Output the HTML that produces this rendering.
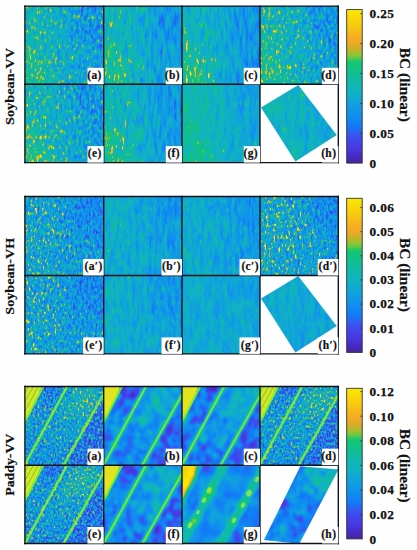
<!DOCTYPE html>
<html><head><meta charset="utf-8"><style>
html,body{margin:0;padding:0;background:#fff;width:417px;height:550px;overflow:hidden}
svg{display:block}
.lb{font:bold 11.5px "Liberation Serif",serif;fill:#111;letter-spacing:0.4px;stroke:#111;stroke-width:0.2px}
.tk{font:bold 13.3px "Liberation Serif",serif;fill:#111;letter-spacing:0.4px;stroke:#111;stroke-width:0.25px}
.ax{font:bold 13px "Liberation Serif",serif;fill:#111;stroke:#111;stroke-width:0.2px}
.ax2{font:bold 15px "Liberation Serif",serif;fill:#111;stroke:#111;stroke-width:0.2px}
</style></head><body>
<svg width="417" height="550" viewBox="0 0 417 550">
<defs><linearGradient id="cb" x1="0" y1="1" x2="0" y2="0"><stop offset="0.000" stop-color="#4623a0"/><stop offset="0.017" stop-color="#4725ad"/><stop offset="0.033" stop-color="#4728bb"/><stop offset="0.050" stop-color="#482ac8"/><stop offset="0.067" stop-color="#4830d2"/><stop offset="0.083" stop-color="#4836dd"/><stop offset="0.100" stop-color="#473ae3"/><stop offset="0.117" stop-color="#453ee7"/><stop offset="0.133" stop-color="#4342ea"/><stop offset="0.150" stop-color="#4146ee"/><stop offset="0.167" stop-color="#3d4cf0"/><stop offset="0.183" stop-color="#3756f0"/><stop offset="0.200" stop-color="#3060f0"/><stop offset="0.217" stop-color="#236bf4"/><stop offset="0.233" stop-color="#1577f8"/><stop offset="0.250" stop-color="#137df6"/><stop offset="0.267" stop-color="#1282f5"/><stop offset="0.283" stop-color="#1187f3"/><stop offset="0.300" stop-color="#118df1"/><stop offset="0.317" stop-color="#1092ee"/><stop offset="0.333" stop-color="#1095eb"/><stop offset="0.350" stop-color="#1099e7"/><stop offset="0.367" stop-color="#109de3"/><stop offset="0.383" stop-color="#10a1df"/><stop offset="0.400" stop-color="#10a5d9"/><stop offset="0.417" stop-color="#10a8d3"/><stop offset="0.433" stop-color="#10acce"/><stop offset="0.450" stop-color="#10b0c8"/><stop offset="0.467" stop-color="#10b2c2"/><stop offset="0.483" stop-color="#10b4bd"/><stop offset="0.500" stop-color="#10b6b7"/><stop offset="0.517" stop-color="#10b8b1"/><stop offset="0.533" stop-color="#10baaa"/><stop offset="0.550" stop-color="#10bba2"/><stop offset="0.567" stop-color="#10bd9b"/><stop offset="0.583" stop-color="#10bf93"/><stop offset="0.600" stop-color="#10c18b"/><stop offset="0.617" stop-color="#10c384"/><stop offset="0.633" stop-color="#10c57c"/><stop offset="0.650" stop-color="#10c775"/><stop offset="0.667" stop-color="#25c865"/><stop offset="0.683" stop-color="#5bc84b"/><stop offset="0.700" stop-color="#83c53a"/><stop offset="0.717" stop-color="#a2bf30"/><stop offset="0.733" stop-color="#b8b62b"/><stop offset="0.750" stop-color="#ceaf28"/><stop offset="0.767" stop-color="#e1ab28"/><stop offset="0.783" stop-color="#f1a927"/><stop offset="0.800" stop-color="#f3ab25"/><stop offset="0.817" stop-color="#f6ae22"/><stop offset="0.833" stop-color="#f8b11f"/><stop offset="0.850" stop-color="#f8b81b"/><stop offset="0.867" stop-color="#f8bf16"/><stop offset="0.883" stop-color="#f8c512"/><stop offset="0.900" stop-color="#f8cb0e"/><stop offset="0.917" stop-color="#f9cf0b"/><stop offset="0.933" stop-color="#f9d408"/><stop offset="0.950" stop-color="#fad805"/><stop offset="0.967" stop-color="#fade05"/><stop offset="0.983" stop-color="#fae505"/><stop offset="1.000" stop-color="#faeb05"/></linearGradient>
<filter id="chroma" filterUnits="userSpaceOnUse" x="0" y="0" width="417" height="550" color-interpolation-filters="sRGB"><feColorMatrix in="SourceGraphic" type="matrix" values="0.299 0.587 0.114 0 0  -0.1687 -0.3313 0.5 0 0.5  0.5 -0.4187 -0.0813 0 0.5  0 0 0 1 0" result="ycc"/><feGaussianBlur in="ycc" stdDeviation="0.9" result="yccb"/><feColorMatrix in="ycc" type="matrix" values="1 0 0 0 0  0 0 0 0 0  0 0 0 0 0  0 0 0 0 1" result="yo"/><feColorMatrix in="yccb" type="matrix" values="0 0 0 0 0  0 1 0 0 0  0 0 1 0 0  0 0 0 0 1" result="co"/><feComposite in="yo" in2="co" operator="arithmetic" k1="0" k2="1" k3="1" k4="0" result="m"/><feColorMatrix in="m" type="matrix" values="1 0 1.402 0 -0.701  1 -0.344136 -0.714136 0 0.529136  1 1.772 0 0 -0.886  0 0 0 1 0"/></filter>
<filter id="sb" x="-20%" y="-20%" width="140%" height="140%"><feGaussianBlur stdDeviation="0.6"/></filter>
<filter id="sb2" x="-20%" y="-20%" width="140%" height="140%"><feGaussianBlur stdDeviation="1.2"/></filter>
<filter id="f0" filterUnits="userSpaceOnUse" x="24.9" y="6.1" width="78.8" height="78.2" color-interpolation-filters="sRGB"><feTurbulence type="fractalNoise" baseFrequency="0.38 0.2" numOctaves="2" seed="1" result="n1"/><feColorMatrix in="n1" type="matrix" values="1 0 0 0 0 1 0 0 0 0 1 0 0 0 0 0 0 0 0 1"/><feComponentTransfer result="g1"><feFuncR type="gamma" exponent="3"/><feFuncG type="gamma" exponent="3"/><feFuncB type="gamma" exponent="3"/></feComponentTransfer><feComposite in="SourceGraphic" in2="g1" operator="arithmetic" k1="0" k2="1" k3="1.100" k4="-0.161" result="t1"/><feTurbulence type="fractalNoise" baseFrequency="0.3 0.08" numOctaves="2" seed="51" result="n2"/><feColorMatrix in="n2" type="matrix" values="0 1 0 0 0 0 1 0 0 0 0 1 0 0 0 0 0 0 0 1" result="g2"/><feComposite in="t1" in2="g2" operator="arithmetic" k1="0" k2="1" k3="0.220" k4="-0.110" result="t2"/><feGaussianBlur in="t2" stdDeviation="0.5" edgeMode="duplicate" result="t3"/><feComponentTransfer in="t3"><feFuncR type="table" tableValues="0.275 0.277 0.280 0.282 0.282 0.282 0.278 0.270 0.263 0.255 0.241 0.214 0.188 0.136 0.084 0.075 0.072 0.068 0.065 0.063 0.063 0.063 0.063 0.063 0.063 0.063 0.063 0.063 0.063 0.063 0.063 0.063 0.063 0.063 0.063 0.063 0.063 0.063 0.063 0.063 0.146 0.356 0.515 0.636 0.723 0.807 0.881 0.943 0.954 0.964 0.973 0.973 0.973 0.973 0.974 0.976 0.978 0.980 0.980 0.980 0.980"/><feFuncG type="table" tableValues="0.137 0.146 0.156 0.165 0.188 0.210 0.229 0.244 0.258 0.273 0.298 0.337 0.376 0.421 0.466 0.489 0.510 0.531 0.552 0.571 0.586 0.601 0.615 0.630 0.645 0.660 0.675 0.690 0.698 0.705 0.713 0.720 0.728 0.735 0.742 0.750 0.757 0.765 0.772 0.780 0.784 0.784 0.772 0.749 0.715 0.686 0.671 0.661 0.671 0.682 0.695 0.722 0.748 0.774 0.795 0.812 0.830 0.847 0.872 0.897 0.922"/><feFuncB type="table" tableValues="0.627 0.680 0.732 0.784 0.825 0.866 0.891 0.905 0.919 0.933 0.941 0.941 0.941 0.956 0.971 0.966 0.959 0.952 0.945 0.935 0.920 0.905 0.890 0.874 0.852 0.829 0.807 0.784 0.762 0.739 0.717 0.695 0.666 0.636 0.607 0.577 0.547 0.517 0.487 0.457 0.397 0.293 0.226 0.186 0.169 0.157 0.157 0.155 0.144 0.134 0.122 0.105 0.087 0.070 0.056 0.044 0.032 0.020 0.020 0.020 0.020"/><feFuncA type="linear" slope="0" intercept="1"/></feComponentTransfer></filter>
<filter id="b0" filterUnits="userSpaceOnUse" x="4.9" y="-13.9" width="118.8" height="118.2" color-interpolation-filters="sRGB"><feGaussianBlur stdDeviation="5"/></filter>
<clipPath id="c0"><rect x="24.9" y="6.1" width="78.8" height="78.2"/></clipPath>
<filter id="f1" filterUnits="userSpaceOnUse" x="103.7" y="6.1" width="78.3" height="78.2" color-interpolation-filters="sRGB"><feTurbulence type="fractalNoise" baseFrequency="0.36 0.14" numOctaves="2" seed="2" result="n1"/><feColorMatrix in="n1" type="matrix" values="1 0 0 0 0 1 0 0 0 0 1 0 0 0 0 0 0 0 0 1"/><feComponentTransfer result="g1"><feFuncR type="gamma" amplitude="2.500" exponent="1" offset="-1.5000"/><feFuncG type="gamma" amplitude="2.500" exponent="1" offset="-1.5000"/><feFuncB type="gamma" amplitude="2.500" exponent="1" offset="-1.5000"/></feComponentTransfer><feComponentTransfer in="SourceGraphic" result="mk"><feFuncR type="linear" slope="5.556" intercept="-2.000"/><feFuncG type="linear" slope="5.556" intercept="-2.000"/><feFuncB type="linear" slope="5.556" intercept="-2.000"/></feComponentTransfer><feComposite in="mk" in2="g1" operator="arithmetic" k1="1" k2="0" k3="0" k4="0" result="g1m"/><feComposite in="SourceGraphic" in2="g1m" operator="arithmetic" k1="0" k2="1" k3="1" k4="-0.0000" result="t1"/><feTurbulence type="fractalNoise" baseFrequency="0.35 0.07" numOctaves="2" seed="52" result="n2"/><feColorMatrix in="n2" type="matrix" values="0 1 0 0 0 0 1 0 0 0 0 1 0 0 0 0 0 0 0 1" result="g2"/><feComposite in="t1" in2="g2" operator="arithmetic" k1="0" k2="1" k3="0.500" k4="-0.250" result="t2"/><feGaussianBlur in="t2" stdDeviation="0.4" edgeMode="duplicate" result="t3"/><feComponentTransfer in="t3"><feFuncR type="table" tableValues="0.275 0.277 0.280 0.282 0.282 0.282 0.278 0.270 0.263 0.255 0.241 0.214 0.188 0.136 0.084 0.075 0.072 0.068 0.065 0.063 0.063 0.063 0.063 0.063 0.063 0.063 0.063 0.063 0.063 0.063 0.063 0.063 0.063 0.063 0.063 0.063 0.063 0.063 0.063 0.063 0.146 0.356 0.515 0.636 0.723 0.807 0.881 0.943 0.954 0.964 0.973 0.973 0.973 0.973 0.974 0.976 0.978 0.980 0.980 0.980 0.980"/><feFuncG type="table" tableValues="0.137 0.146 0.156 0.165 0.188 0.210 0.229 0.244 0.258 0.273 0.298 0.337 0.376 0.421 0.466 0.489 0.510 0.531 0.552 0.571 0.586 0.601 0.615 0.630 0.645 0.660 0.675 0.690 0.698 0.705 0.713 0.720 0.728 0.735 0.742 0.750 0.757 0.765 0.772 0.780 0.784 0.784 0.772 0.749 0.715 0.686 0.671 0.661 0.671 0.682 0.695 0.722 0.748 0.774 0.795 0.812 0.830 0.847 0.872 0.897 0.922"/><feFuncB type="table" tableValues="0.627 0.680 0.732 0.784 0.825 0.866 0.891 0.905 0.919 0.933 0.941 0.941 0.941 0.956 0.971 0.966 0.959 0.952 0.945 0.935 0.920 0.905 0.890 0.874 0.852 0.829 0.807 0.784 0.762 0.739 0.717 0.695 0.666 0.636 0.607 0.577 0.547 0.517 0.487 0.457 0.397 0.293 0.226 0.186 0.169 0.157 0.157 0.155 0.144 0.134 0.122 0.105 0.087 0.070 0.056 0.044 0.032 0.020 0.020 0.020 0.020"/><feFuncA type="linear" slope="0" intercept="1"/></feComponentTransfer></filter>
<filter id="b1" filterUnits="userSpaceOnUse" x="83.7" y="-13.9" width="118.3" height="118.2" color-interpolation-filters="sRGB"><feGaussianBlur stdDeviation="5"/></filter>
<clipPath id="c1"><rect x="103.7" y="6.1" width="78.3" height="78.2"/></clipPath>
<filter id="f2" filterUnits="userSpaceOnUse" x="182.0" y="6.1" width="78.0" height="78.2" color-interpolation-filters="sRGB"><feTurbulence type="fractalNoise" baseFrequency="0.36 0.14" numOctaves="2" seed="3" result="n1"/><feColorMatrix in="n1" type="matrix" values="1 0 0 0 0 1 0 0 0 0 1 0 0 0 0 0 0 0 0 1"/><feComponentTransfer result="g1"><feFuncR type="gamma" amplitude="2.500" exponent="1" offset="-1.5000"/><feFuncG type="gamma" amplitude="2.500" exponent="1" offset="-1.5000"/><feFuncB type="gamma" amplitude="2.500" exponent="1" offset="-1.5000"/></feComponentTransfer><feComponentTransfer in="SourceGraphic" result="mk"><feFuncR type="linear" slope="5.556" intercept="-2.000"/><feFuncG type="linear" slope="5.556" intercept="-2.000"/><feFuncB type="linear" slope="5.556" intercept="-2.000"/></feComponentTransfer><feComposite in="mk" in2="g1" operator="arithmetic" k1="1" k2="0" k3="0" k4="0" result="g1m"/><feComposite in="SourceGraphic" in2="g1m" operator="arithmetic" k1="0" k2="1" k3="1" k4="-0.0000" result="t1"/><feTurbulence type="fractalNoise" baseFrequency="0.35 0.07" numOctaves="2" seed="53" result="n2"/><feColorMatrix in="n2" type="matrix" values="0 1 0 0 0 0 1 0 0 0 0 1 0 0 0 0 0 0 0 1" result="g2"/><feComposite in="t1" in2="g2" operator="arithmetic" k1="0" k2="1" k3="0.500" k4="-0.250" result="t2"/><feGaussianBlur in="t2" stdDeviation="0.4" edgeMode="duplicate" result="t3"/><feComponentTransfer in="t3"><feFuncR type="table" tableValues="0.275 0.277 0.280 0.282 0.282 0.282 0.278 0.270 0.263 0.255 0.241 0.214 0.188 0.136 0.084 0.075 0.072 0.068 0.065 0.063 0.063 0.063 0.063 0.063 0.063 0.063 0.063 0.063 0.063 0.063 0.063 0.063 0.063 0.063 0.063 0.063 0.063 0.063 0.063 0.063 0.146 0.356 0.515 0.636 0.723 0.807 0.881 0.943 0.954 0.964 0.973 0.973 0.973 0.973 0.974 0.976 0.978 0.980 0.980 0.980 0.980"/><feFuncG type="table" tableValues="0.137 0.146 0.156 0.165 0.188 0.210 0.229 0.244 0.258 0.273 0.298 0.337 0.376 0.421 0.466 0.489 0.510 0.531 0.552 0.571 0.586 0.601 0.615 0.630 0.645 0.660 0.675 0.690 0.698 0.705 0.713 0.720 0.728 0.735 0.742 0.750 0.757 0.765 0.772 0.780 0.784 0.784 0.772 0.749 0.715 0.686 0.671 0.661 0.671 0.682 0.695 0.722 0.748 0.774 0.795 0.812 0.830 0.847 0.872 0.897 0.922"/><feFuncB type="table" tableValues="0.627 0.680 0.732 0.784 0.825 0.866 0.891 0.905 0.919 0.933 0.941 0.941 0.941 0.956 0.971 0.966 0.959 0.952 0.945 0.935 0.920 0.905 0.890 0.874 0.852 0.829 0.807 0.784 0.762 0.739 0.717 0.695 0.666 0.636 0.607 0.577 0.547 0.517 0.487 0.457 0.397 0.293 0.226 0.186 0.169 0.157 0.157 0.155 0.144 0.134 0.122 0.105 0.087 0.070 0.056 0.044 0.032 0.020 0.020 0.020 0.020"/><feFuncA type="linear" slope="0" intercept="1"/></feComponentTransfer></filter>
<filter id="b2" filterUnits="userSpaceOnUse" x="162.0" y="-13.9" width="118.0" height="118.2" color-interpolation-filters="sRGB"><feGaussianBlur stdDeviation="5"/></filter>
<clipPath id="c2"><rect x="182.0" y="6.1" width="78.0" height="78.2"/></clipPath>
<filter id="f3" filterUnits="userSpaceOnUse" x="260.0" y="6.1" width="78.3" height="78.2" color-interpolation-filters="sRGB"><feTurbulence type="fractalNoise" baseFrequency="0.38 0.2" numOctaves="2" seed="4" result="n1"/><feColorMatrix in="n1" type="matrix" values="1 0 0 0 0 1 0 0 0 0 1 0 0 0 0 0 0 0 0 1"/><feComponentTransfer result="g1"><feFuncR type="gamma" exponent="3"/><feFuncG type="gamma" exponent="3"/><feFuncB type="gamma" exponent="3"/></feComponentTransfer><feComposite in="SourceGraphic" in2="g1" operator="arithmetic" k1="0" k2="1" k3="1.100" k4="-0.161" result="t1"/><feTurbulence type="fractalNoise" baseFrequency="0.3 0.08" numOctaves="2" seed="54" result="n2"/><feColorMatrix in="n2" type="matrix" values="0 1 0 0 0 0 1 0 0 0 0 1 0 0 0 0 0 0 0 1" result="g2"/><feComposite in="t1" in2="g2" operator="arithmetic" k1="0" k2="1" k3="0.220" k4="-0.110" result="t2"/><feGaussianBlur in="t2" stdDeviation="0.5" edgeMode="duplicate" result="t3"/><feComponentTransfer in="t3"><feFuncR type="table" tableValues="0.275 0.277 0.280 0.282 0.282 0.282 0.278 0.270 0.263 0.255 0.241 0.214 0.188 0.136 0.084 0.075 0.072 0.068 0.065 0.063 0.063 0.063 0.063 0.063 0.063 0.063 0.063 0.063 0.063 0.063 0.063 0.063 0.063 0.063 0.063 0.063 0.063 0.063 0.063 0.063 0.146 0.356 0.515 0.636 0.723 0.807 0.881 0.943 0.954 0.964 0.973 0.973 0.973 0.973 0.974 0.976 0.978 0.980 0.980 0.980 0.980"/><feFuncG type="table" tableValues="0.137 0.146 0.156 0.165 0.188 0.210 0.229 0.244 0.258 0.273 0.298 0.337 0.376 0.421 0.466 0.489 0.510 0.531 0.552 0.571 0.586 0.601 0.615 0.630 0.645 0.660 0.675 0.690 0.698 0.705 0.713 0.720 0.728 0.735 0.742 0.750 0.757 0.765 0.772 0.780 0.784 0.784 0.772 0.749 0.715 0.686 0.671 0.661 0.671 0.682 0.695 0.722 0.748 0.774 0.795 0.812 0.830 0.847 0.872 0.897 0.922"/><feFuncB type="table" tableValues="0.627 0.680 0.732 0.784 0.825 0.866 0.891 0.905 0.919 0.933 0.941 0.941 0.941 0.956 0.971 0.966 0.959 0.952 0.945 0.935 0.920 0.905 0.890 0.874 0.852 0.829 0.807 0.784 0.762 0.739 0.717 0.695 0.666 0.636 0.607 0.577 0.547 0.517 0.487 0.457 0.397 0.293 0.226 0.186 0.169 0.157 0.157 0.155 0.144 0.134 0.122 0.105 0.087 0.070 0.056 0.044 0.032 0.020 0.020 0.020 0.020"/><feFuncA type="linear" slope="0" intercept="1"/></feComponentTransfer></filter>
<filter id="b3" filterUnits="userSpaceOnUse" x="240.0" y="-13.9" width="118.3" height="118.2" color-interpolation-filters="sRGB"><feGaussianBlur stdDeviation="5"/></filter>
<clipPath id="c3"><rect x="260.0" y="6.1" width="78.3" height="78.2"/></clipPath>
<filter id="f4" filterUnits="userSpaceOnUse" x="24.9" y="84.2" width="78.8" height="78.3" color-interpolation-filters="sRGB"><feTurbulence type="fractalNoise" baseFrequency="0.38 0.2" numOctaves="2" seed="5" result="n1"/><feColorMatrix in="n1" type="matrix" values="1 0 0 0 0 1 0 0 0 0 1 0 0 0 0 0 0 0 0 1"/><feComponentTransfer result="g1"><feFuncR type="gamma" exponent="3"/><feFuncG type="gamma" exponent="3"/><feFuncB type="gamma" exponent="3"/></feComponentTransfer><feComposite in="SourceGraphic" in2="g1" operator="arithmetic" k1="0" k2="1" k3="1.100" k4="-0.161" result="t1"/><feTurbulence type="fractalNoise" baseFrequency="0.3 0.08" numOctaves="2" seed="55" result="n2"/><feColorMatrix in="n2" type="matrix" values="0 1 0 0 0 0 1 0 0 0 0 1 0 0 0 0 0 0 0 1" result="g2"/><feComposite in="t1" in2="g2" operator="arithmetic" k1="0" k2="1" k3="0.220" k4="-0.110" result="t2"/><feGaussianBlur in="t2" stdDeviation="0.5" edgeMode="duplicate" result="t3"/><feComponentTransfer in="t3"><feFuncR type="table" tableValues="0.275 0.277 0.280 0.282 0.282 0.282 0.278 0.270 0.263 0.255 0.241 0.214 0.188 0.136 0.084 0.075 0.072 0.068 0.065 0.063 0.063 0.063 0.063 0.063 0.063 0.063 0.063 0.063 0.063 0.063 0.063 0.063 0.063 0.063 0.063 0.063 0.063 0.063 0.063 0.063 0.146 0.356 0.515 0.636 0.723 0.807 0.881 0.943 0.954 0.964 0.973 0.973 0.973 0.973 0.974 0.976 0.978 0.980 0.980 0.980 0.980"/><feFuncG type="table" tableValues="0.137 0.146 0.156 0.165 0.188 0.210 0.229 0.244 0.258 0.273 0.298 0.337 0.376 0.421 0.466 0.489 0.510 0.531 0.552 0.571 0.586 0.601 0.615 0.630 0.645 0.660 0.675 0.690 0.698 0.705 0.713 0.720 0.728 0.735 0.742 0.750 0.757 0.765 0.772 0.780 0.784 0.784 0.772 0.749 0.715 0.686 0.671 0.661 0.671 0.682 0.695 0.722 0.748 0.774 0.795 0.812 0.830 0.847 0.872 0.897 0.922"/><feFuncB type="table" tableValues="0.627 0.680 0.732 0.784 0.825 0.866 0.891 0.905 0.919 0.933 0.941 0.941 0.941 0.956 0.971 0.966 0.959 0.952 0.945 0.935 0.920 0.905 0.890 0.874 0.852 0.829 0.807 0.784 0.762 0.739 0.717 0.695 0.666 0.636 0.607 0.577 0.547 0.517 0.487 0.457 0.397 0.293 0.226 0.186 0.169 0.157 0.157 0.155 0.144 0.134 0.122 0.105 0.087 0.070 0.056 0.044 0.032 0.020 0.020 0.020 0.020"/><feFuncA type="linear" slope="0" intercept="1"/></feComponentTransfer></filter>
<filter id="b4" filterUnits="userSpaceOnUse" x="4.9" y="64.2" width="118.8" height="118.3" color-interpolation-filters="sRGB"><feGaussianBlur stdDeviation="5"/></filter>
<clipPath id="c4"><rect x="24.9" y="84.2" width="78.8" height="78.3"/></clipPath>
<filter id="f5" filterUnits="userSpaceOnUse" x="103.7" y="84.2" width="78.3" height="78.3" color-interpolation-filters="sRGB"><feTurbulence type="fractalNoise" baseFrequency="0.36 0.14" numOctaves="2" seed="6" result="n1"/><feColorMatrix in="n1" type="matrix" values="1 0 0 0 0 1 0 0 0 0 1 0 0 0 0 0 0 0 0 1"/><feComponentTransfer result="g1"><feFuncR type="gamma" amplitude="2.500" exponent="1" offset="-1.5000"/><feFuncG type="gamma" amplitude="2.500" exponent="1" offset="-1.5000"/><feFuncB type="gamma" amplitude="2.500" exponent="1" offset="-1.5000"/></feComponentTransfer><feComponentTransfer in="SourceGraphic" result="mk"><feFuncR type="linear" slope="5.556" intercept="-2.000"/><feFuncG type="linear" slope="5.556" intercept="-2.000"/><feFuncB type="linear" slope="5.556" intercept="-2.000"/></feComponentTransfer><feComposite in="mk" in2="g1" operator="arithmetic" k1="1" k2="0" k3="0" k4="0" result="g1m"/><feComposite in="SourceGraphic" in2="g1m" operator="arithmetic" k1="0" k2="1" k3="1" k4="-0.0000" result="t1"/><feTurbulence type="fractalNoise" baseFrequency="0.35 0.07" numOctaves="2" seed="56" result="n2"/><feColorMatrix in="n2" type="matrix" values="0 1 0 0 0 0 1 0 0 0 0 1 0 0 0 0 0 0 0 1" result="g2"/><feComposite in="t1" in2="g2" operator="arithmetic" k1="0" k2="1" k3="0.500" k4="-0.250" result="t2"/><feGaussianBlur in="t2" stdDeviation="0.4" edgeMode="duplicate" result="t3"/><feComponentTransfer in="t3"><feFuncR type="table" tableValues="0.275 0.277 0.280 0.282 0.282 0.282 0.278 0.270 0.263 0.255 0.241 0.214 0.188 0.136 0.084 0.075 0.072 0.068 0.065 0.063 0.063 0.063 0.063 0.063 0.063 0.063 0.063 0.063 0.063 0.063 0.063 0.063 0.063 0.063 0.063 0.063 0.063 0.063 0.063 0.063 0.146 0.356 0.515 0.636 0.723 0.807 0.881 0.943 0.954 0.964 0.973 0.973 0.973 0.973 0.974 0.976 0.978 0.980 0.980 0.980 0.980"/><feFuncG type="table" tableValues="0.137 0.146 0.156 0.165 0.188 0.210 0.229 0.244 0.258 0.273 0.298 0.337 0.376 0.421 0.466 0.489 0.510 0.531 0.552 0.571 0.586 0.601 0.615 0.630 0.645 0.660 0.675 0.690 0.698 0.705 0.713 0.720 0.728 0.735 0.742 0.750 0.757 0.765 0.772 0.780 0.784 0.784 0.772 0.749 0.715 0.686 0.671 0.661 0.671 0.682 0.695 0.722 0.748 0.774 0.795 0.812 0.830 0.847 0.872 0.897 0.922"/><feFuncB type="table" tableValues="0.627 0.680 0.732 0.784 0.825 0.866 0.891 0.905 0.919 0.933 0.941 0.941 0.941 0.956 0.971 0.966 0.959 0.952 0.945 0.935 0.920 0.905 0.890 0.874 0.852 0.829 0.807 0.784 0.762 0.739 0.717 0.695 0.666 0.636 0.607 0.577 0.547 0.517 0.487 0.457 0.397 0.293 0.226 0.186 0.169 0.157 0.157 0.155 0.144 0.134 0.122 0.105 0.087 0.070 0.056 0.044 0.032 0.020 0.020 0.020 0.020"/><feFuncA type="linear" slope="0" intercept="1"/></feComponentTransfer></filter>
<filter id="b5" filterUnits="userSpaceOnUse" x="83.7" y="64.2" width="118.3" height="118.3" color-interpolation-filters="sRGB"><feGaussianBlur stdDeviation="5"/></filter>
<clipPath id="c5"><rect x="103.7" y="84.2" width="78.3" height="78.3"/></clipPath>
<filter id="f6" filterUnits="userSpaceOnUse" x="182.0" y="84.2" width="78.0" height="78.3" color-interpolation-filters="sRGB"><feTurbulence type="fractalNoise" baseFrequency="0.4 0.15" numOctaves="2" seed="7" result="n1"/><feColorMatrix in="n1" type="matrix" values="1 0 0 0 0 1 0 0 0 0 1 0 0 0 0 0 0 0 0 1"/><feComponentTransfer result="g1"><feFuncR type="gamma" exponent="5"/><feFuncG type="gamma" exponent="5"/><feFuncB type="gamma" exponent="5"/></feComponentTransfer><feComposite in="SourceGraphic" in2="g1" operator="arithmetic" k1="0" k2="1" k3="0.600" k4="-0.030" result="t1"/><feTurbulence type="fractalNoise" baseFrequency="0.2 0.05" numOctaves="2" seed="57" result="n2"/><feColorMatrix in="n2" type="matrix" values="0 1 0 0 0 0 1 0 0 0 0 1 0 0 0 0 0 0 0 1" result="g2"/><feComposite in="t1" in2="g2" operator="arithmetic" k1="0" k2="1" k3="0.300" k4="-0.150" result="t2"/><feGaussianBlur in="t2" stdDeviation="0.6" edgeMode="duplicate" result="t3"/><feComponentTransfer in="t3"><feFuncR type="table" tableValues="0.275 0.277 0.280 0.282 0.282 0.282 0.278 0.270 0.263 0.255 0.241 0.214 0.188 0.136 0.084 0.075 0.072 0.068 0.065 0.063 0.063 0.063 0.063 0.063 0.063 0.063 0.063 0.063 0.063 0.063 0.063 0.063 0.063 0.063 0.063 0.063 0.063 0.063 0.063 0.063 0.146 0.356 0.515 0.636 0.723 0.807 0.881 0.943 0.954 0.964 0.973 0.973 0.973 0.973 0.974 0.976 0.978 0.980 0.980 0.980 0.980"/><feFuncG type="table" tableValues="0.137 0.146 0.156 0.165 0.188 0.210 0.229 0.244 0.258 0.273 0.298 0.337 0.376 0.421 0.466 0.489 0.510 0.531 0.552 0.571 0.586 0.601 0.615 0.630 0.645 0.660 0.675 0.690 0.698 0.705 0.713 0.720 0.728 0.735 0.742 0.750 0.757 0.765 0.772 0.780 0.784 0.784 0.772 0.749 0.715 0.686 0.671 0.661 0.671 0.682 0.695 0.722 0.748 0.774 0.795 0.812 0.830 0.847 0.872 0.897 0.922"/><feFuncB type="table" tableValues="0.627 0.680 0.732 0.784 0.825 0.866 0.891 0.905 0.919 0.933 0.941 0.941 0.941 0.956 0.971 0.966 0.959 0.952 0.945 0.935 0.920 0.905 0.890 0.874 0.852 0.829 0.807 0.784 0.762 0.739 0.717 0.695 0.666 0.636 0.607 0.577 0.547 0.517 0.487 0.457 0.397 0.293 0.226 0.186 0.169 0.157 0.157 0.155 0.144 0.134 0.122 0.105 0.087 0.070 0.056 0.044 0.032 0.020 0.020 0.020 0.020"/><feFuncA type="linear" slope="0" intercept="1"/></feComponentTransfer></filter>
<filter id="b6" filterUnits="userSpaceOnUse" x="162.0" y="64.2" width="118.0" height="118.3" color-interpolation-filters="sRGB"><feGaussianBlur stdDeviation="6"/></filter>
<clipPath id="c6"><rect x="182.0" y="84.2" width="78.0" height="78.3"/></clipPath>
<filter id="f7" filterUnits="userSpaceOnUse" x="260.0" y="84.2" width="78.3" height="78.3" color-interpolation-filters="sRGB"><feTurbulence type="fractalNoise" baseFrequency="0.4 0.15" numOctaves="2" seed="8" result="n1"/><feColorMatrix in="n1" type="matrix" values="1 0 0 0 0 1 0 0 0 0 1 0 0 0 0 0 0 0 0 1"/><feComponentTransfer result="g1"><feFuncR type="gamma" exponent="5"/><feFuncG type="gamma" exponent="5"/><feFuncB type="gamma" exponent="5"/></feComponentTransfer><feComposite in="SourceGraphic" in2="g1" operator="arithmetic" k1="0" k2="1" k3="0.600" k4="-0.030" result="t1"/><feTurbulence type="fractalNoise" baseFrequency="0.2 0.05" numOctaves="2" seed="58" result="n2"/><feColorMatrix in="n2" type="matrix" values="0 1 0 0 0 0 1 0 0 0 0 1 0 0 0 0 0 0 0 1" result="g2"/><feComposite in="t1" in2="g2" operator="arithmetic" k1="0" k2="1" k3="0.300" k4="-0.150" result="t2"/><feGaussianBlur in="t2" stdDeviation="0.6" edgeMode="duplicate" result="t3"/><feComponentTransfer in="t3"><feFuncR type="table" tableValues="0.275 0.277 0.280 0.282 0.282 0.282 0.278 0.270 0.263 0.255 0.241 0.214 0.188 0.136 0.084 0.075 0.072 0.068 0.065 0.063 0.063 0.063 0.063 0.063 0.063 0.063 0.063 0.063 0.063 0.063 0.063 0.063 0.063 0.063 0.063 0.063 0.063 0.063 0.063 0.063 0.146 0.356 0.515 0.636 0.723 0.807 0.881 0.943 0.954 0.964 0.973 0.973 0.973 0.973 0.974 0.976 0.978 0.980 0.980 0.980 0.980"/><feFuncG type="table" tableValues="0.137 0.146 0.156 0.165 0.188 0.210 0.229 0.244 0.258 0.273 0.298 0.337 0.376 0.421 0.466 0.489 0.510 0.531 0.552 0.571 0.586 0.601 0.615 0.630 0.645 0.660 0.675 0.690 0.698 0.705 0.713 0.720 0.728 0.735 0.742 0.750 0.757 0.765 0.772 0.780 0.784 0.784 0.772 0.749 0.715 0.686 0.671 0.661 0.671 0.682 0.695 0.722 0.748 0.774 0.795 0.812 0.830 0.847 0.872 0.897 0.922"/><feFuncB type="table" tableValues="0.627 0.680 0.732 0.784 0.825 0.866 0.891 0.905 0.919 0.933 0.941 0.941 0.941 0.956 0.971 0.966 0.959 0.952 0.945 0.935 0.920 0.905 0.890 0.874 0.852 0.829 0.807 0.784 0.762 0.739 0.717 0.695 0.666 0.636 0.607 0.577 0.547 0.517 0.487 0.457 0.397 0.293 0.226 0.186 0.169 0.157 0.157 0.155 0.144 0.134 0.122 0.105 0.087 0.070 0.056 0.044 0.032 0.020 0.020 0.020 0.020"/><feFuncA type="linear" slope="0" intercept="1"/></feComponentTransfer></filter>
<filter id="b7" filterUnits="userSpaceOnUse" x="240.0" y="64.2" width="118.3" height="118.3" color-interpolation-filters="sRGB"><feGaussianBlur stdDeviation="6"/></filter>
<clipPath id="c7"><polygon points="298.3,84.9 336.7,135.1 295.4,161.6 261.0,107.6"/></clipPath>
<filter id="f8" filterUnits="userSpaceOnUse" x="24.9" y="196.5" width="78.8" height="79.0" color-interpolation-filters="sRGB"><feTurbulence type="fractalNoise" baseFrequency="0.42 0.25" numOctaves="2" seed="9" result="n1"/><feColorMatrix in="n1" type="matrix" values="1 0 0 0 0 1 0 0 0 0 1 0 0 0 0 0 0 0 0 1"/><feComponentTransfer result="g1"><feFuncR type="gamma" amplitude="2.500" exponent="1" offset="-1.3000"/><feFuncG type="gamma" amplitude="2.500" exponent="1" offset="-1.3000"/><feFuncB type="gamma" amplitude="2.500" exponent="1" offset="-1.3000"/></feComponentTransfer><feComponentTransfer in="SourceGraphic" result="mk"><feFuncR type="linear" slope="10.000" intercept="-2.500"/><feFuncG type="linear" slope="10.000" intercept="-2.500"/><feFuncB type="linear" slope="10.000" intercept="-2.500"/></feComponentTransfer><feComposite in="mk" in2="g1" operator="arithmetic" k1="1" k2="0" k3="0" k4="0" result="g1m"/><feComposite in="SourceGraphic" in2="g1m" operator="arithmetic" k1="0" k2="1" k3="1" k4="-0.0000" result="t1"/><feTurbulence type="fractalNoise" baseFrequency="0.45 0.2" numOctaves="2" seed="59" result="n2"/><feColorMatrix in="n2" type="matrix" values="0 1 0 0 0 0 1 0 0 0 0 1 0 0 0 0 0 0 0 1" result="g2"/><feComposite in="t1" in2="g2" operator="arithmetic" k1="0" k2="1" k3="0.550" k4="-0.275" result="t2"/><feGaussianBlur in="t2" stdDeviation="0.5" edgeMode="duplicate" result="t3"/><feComponentTransfer in="t3"><feFuncR type="table" tableValues="0.275 0.277 0.280 0.282 0.282 0.282 0.278 0.270 0.263 0.255 0.241 0.214 0.188 0.136 0.084 0.075 0.072 0.068 0.065 0.063 0.063 0.063 0.063 0.063 0.063 0.063 0.063 0.063 0.063 0.063 0.063 0.063 0.063 0.063 0.063 0.063 0.063 0.063 0.063 0.063 0.146 0.356 0.515 0.636 0.723 0.807 0.881 0.943 0.954 0.964 0.973 0.973 0.973 0.973 0.974 0.976 0.978 0.980 0.980 0.980 0.980"/><feFuncG type="table" tableValues="0.137 0.146 0.156 0.165 0.188 0.210 0.229 0.244 0.258 0.273 0.298 0.337 0.376 0.421 0.466 0.489 0.510 0.531 0.552 0.571 0.586 0.601 0.615 0.630 0.645 0.660 0.675 0.690 0.698 0.705 0.713 0.720 0.728 0.735 0.742 0.750 0.757 0.765 0.772 0.780 0.784 0.784 0.772 0.749 0.715 0.686 0.671 0.661 0.671 0.682 0.695 0.722 0.748 0.774 0.795 0.812 0.830 0.847 0.872 0.897 0.922"/><feFuncB type="table" tableValues="0.627 0.680 0.732 0.784 0.825 0.866 0.891 0.905 0.919 0.933 0.941 0.941 0.941 0.956 0.971 0.966 0.959 0.952 0.945 0.935 0.920 0.905 0.890 0.874 0.852 0.829 0.807 0.784 0.762 0.739 0.717 0.695 0.666 0.636 0.607 0.577 0.547 0.517 0.487 0.457 0.397 0.293 0.226 0.186 0.169 0.157 0.157 0.155 0.144 0.134 0.122 0.105 0.087 0.070 0.056 0.044 0.032 0.020 0.020 0.020 0.020"/><feFuncA type="linear" slope="0" intercept="1"/></feComponentTransfer></filter>
<filter id="b8" filterUnits="userSpaceOnUse" x="4.9" y="176.5" width="118.8" height="119.0" color-interpolation-filters="sRGB"><feGaussianBlur stdDeviation="5"/></filter>
<clipPath id="c8"><rect x="24.9" y="196.5" width="78.8" height="79.0"/></clipPath>
<filter id="f9" filterUnits="userSpaceOnUse" x="103.7" y="196.5" width="78.3" height="79.0" color-interpolation-filters="sRGB"><feTurbulence type="fractalNoise" baseFrequency="0.4 0.15" numOctaves="2" seed="10" result="n1"/><feColorMatrix in="n1" type="matrix" values="1 0 0 0 0 1 0 0 0 0 1 0 0 0 0 0 0 0 0 1"/><feComponentTransfer result="g1"><feFuncR type="gamma" exponent="5"/><feFuncG type="gamma" exponent="5"/><feFuncB type="gamma" exponent="5"/></feComponentTransfer><feComposite in="SourceGraphic" in2="g1" operator="arithmetic" k1="0" k2="1" k3="0.600" k4="-0.030" result="t1"/><feTurbulence type="fractalNoise" baseFrequency="0.25 0.06" numOctaves="2" seed="60" result="n2"/><feColorMatrix in="n2" type="matrix" values="0 1 0 0 0 0 1 0 0 0 0 1 0 0 0 0 0 0 0 1" result="g2"/><feComposite in="t1" in2="g2" operator="arithmetic" k1="0" k2="1" k3="0.350" k4="-0.175" result="t2"/><feGaussianBlur in="t2" stdDeviation="0.6" edgeMode="duplicate" result="t3"/><feComponentTransfer in="t3"><feFuncR type="table" tableValues="0.275 0.277 0.280 0.282 0.282 0.282 0.278 0.270 0.263 0.255 0.241 0.214 0.188 0.136 0.084 0.075 0.072 0.068 0.065 0.063 0.063 0.063 0.063 0.063 0.063 0.063 0.063 0.063 0.063 0.063 0.063 0.063 0.063 0.063 0.063 0.063 0.063 0.063 0.063 0.063 0.146 0.356 0.515 0.636 0.723 0.807 0.881 0.943 0.954 0.964 0.973 0.973 0.973 0.973 0.974 0.976 0.978 0.980 0.980 0.980 0.980"/><feFuncG type="table" tableValues="0.137 0.146 0.156 0.165 0.188 0.210 0.229 0.244 0.258 0.273 0.298 0.337 0.376 0.421 0.466 0.489 0.510 0.531 0.552 0.571 0.586 0.601 0.615 0.630 0.645 0.660 0.675 0.690 0.698 0.705 0.713 0.720 0.728 0.735 0.742 0.750 0.757 0.765 0.772 0.780 0.784 0.784 0.772 0.749 0.715 0.686 0.671 0.661 0.671 0.682 0.695 0.722 0.748 0.774 0.795 0.812 0.830 0.847 0.872 0.897 0.922"/><feFuncB type="table" tableValues="0.627 0.680 0.732 0.784 0.825 0.866 0.891 0.905 0.919 0.933 0.941 0.941 0.941 0.956 0.971 0.966 0.959 0.952 0.945 0.935 0.920 0.905 0.890 0.874 0.852 0.829 0.807 0.784 0.762 0.739 0.717 0.695 0.666 0.636 0.607 0.577 0.547 0.517 0.487 0.457 0.397 0.293 0.226 0.186 0.169 0.157 0.157 0.155 0.144 0.134 0.122 0.105 0.087 0.070 0.056 0.044 0.032 0.020 0.020 0.020 0.020"/><feFuncA type="linear" slope="0" intercept="1"/></feComponentTransfer></filter>
<filter id="b9" filterUnits="userSpaceOnUse" x="83.7" y="176.5" width="118.3" height="119.0" color-interpolation-filters="sRGB"><feGaussianBlur stdDeviation="5"/></filter>
<clipPath id="c9"><rect x="103.7" y="196.5" width="78.3" height="79.0"/></clipPath>
<filter id="f10" filterUnits="userSpaceOnUse" x="182.0" y="196.5" width="78.0" height="79.0" color-interpolation-filters="sRGB"><feTurbulence type="fractalNoise" baseFrequency="0.4 0.15" numOctaves="2" seed="11" result="n1"/><feColorMatrix in="n1" type="matrix" values="1 0 0 0 0 1 0 0 0 0 1 0 0 0 0 0 0 0 0 1"/><feComponentTransfer result="g1"><feFuncR type="gamma" exponent="5"/><feFuncG type="gamma" exponent="5"/><feFuncB type="gamma" exponent="5"/></feComponentTransfer><feComposite in="SourceGraphic" in2="g1" operator="arithmetic" k1="0" k2="1" k3="0.600" k4="-0.030" result="t1"/><feTurbulence type="fractalNoise" baseFrequency="0.25 0.06" numOctaves="2" seed="61" result="n2"/><feColorMatrix in="n2" type="matrix" values="0 1 0 0 0 0 1 0 0 0 0 1 0 0 0 0 0 0 0 1" result="g2"/><feComposite in="t1" in2="g2" operator="arithmetic" k1="0" k2="1" k3="0.350" k4="-0.175" result="t2"/><feGaussianBlur in="t2" stdDeviation="0.6" edgeMode="duplicate" result="t3"/><feComponentTransfer in="t3"><feFuncR type="table" tableValues="0.275 0.277 0.280 0.282 0.282 0.282 0.278 0.270 0.263 0.255 0.241 0.214 0.188 0.136 0.084 0.075 0.072 0.068 0.065 0.063 0.063 0.063 0.063 0.063 0.063 0.063 0.063 0.063 0.063 0.063 0.063 0.063 0.063 0.063 0.063 0.063 0.063 0.063 0.063 0.063 0.146 0.356 0.515 0.636 0.723 0.807 0.881 0.943 0.954 0.964 0.973 0.973 0.973 0.973 0.974 0.976 0.978 0.980 0.980 0.980 0.980"/><feFuncG type="table" tableValues="0.137 0.146 0.156 0.165 0.188 0.210 0.229 0.244 0.258 0.273 0.298 0.337 0.376 0.421 0.466 0.489 0.510 0.531 0.552 0.571 0.586 0.601 0.615 0.630 0.645 0.660 0.675 0.690 0.698 0.705 0.713 0.720 0.728 0.735 0.742 0.750 0.757 0.765 0.772 0.780 0.784 0.784 0.772 0.749 0.715 0.686 0.671 0.661 0.671 0.682 0.695 0.722 0.748 0.774 0.795 0.812 0.830 0.847 0.872 0.897 0.922"/><feFuncB type="table" tableValues="0.627 0.680 0.732 0.784 0.825 0.866 0.891 0.905 0.919 0.933 0.941 0.941 0.941 0.956 0.971 0.966 0.959 0.952 0.945 0.935 0.920 0.905 0.890 0.874 0.852 0.829 0.807 0.784 0.762 0.739 0.717 0.695 0.666 0.636 0.607 0.577 0.547 0.517 0.487 0.457 0.397 0.293 0.226 0.186 0.169 0.157 0.157 0.155 0.144 0.134 0.122 0.105 0.087 0.070 0.056 0.044 0.032 0.020 0.020 0.020 0.020"/><feFuncA type="linear" slope="0" intercept="1"/></feComponentTransfer></filter>
<filter id="b10" filterUnits="userSpaceOnUse" x="162.0" y="176.5" width="118.0" height="119.0" color-interpolation-filters="sRGB"><feGaussianBlur stdDeviation="5"/></filter>
<clipPath id="c10"><rect x="182.0" y="196.5" width="78.0" height="79.0"/></clipPath>
<filter id="f11" filterUnits="userSpaceOnUse" x="260.0" y="196.5" width="78.3" height="79.0" color-interpolation-filters="sRGB"><feTurbulence type="fractalNoise" baseFrequency="0.42 0.25" numOctaves="2" seed="12" result="n1"/><feColorMatrix in="n1" type="matrix" values="1 0 0 0 0 1 0 0 0 0 1 0 0 0 0 0 0 0 0 1"/><feComponentTransfer result="g1"><feFuncR type="gamma" amplitude="2.500" exponent="1" offset="-1.3000"/><feFuncG type="gamma" amplitude="2.500" exponent="1" offset="-1.3000"/><feFuncB type="gamma" amplitude="2.500" exponent="1" offset="-1.3000"/></feComponentTransfer><feComponentTransfer in="SourceGraphic" result="mk"><feFuncR type="linear" slope="10.000" intercept="-2.500"/><feFuncG type="linear" slope="10.000" intercept="-2.500"/><feFuncB type="linear" slope="10.000" intercept="-2.500"/></feComponentTransfer><feComposite in="mk" in2="g1" operator="arithmetic" k1="1" k2="0" k3="0" k4="0" result="g1m"/><feComposite in="SourceGraphic" in2="g1m" operator="arithmetic" k1="0" k2="1" k3="1" k4="-0.0000" result="t1"/><feTurbulence type="fractalNoise" baseFrequency="0.45 0.2" numOctaves="2" seed="62" result="n2"/><feColorMatrix in="n2" type="matrix" values="0 1 0 0 0 0 1 0 0 0 0 1 0 0 0 0 0 0 0 1" result="g2"/><feComposite in="t1" in2="g2" operator="arithmetic" k1="0" k2="1" k3="0.550" k4="-0.275" result="t2"/><feGaussianBlur in="t2" stdDeviation="0.5" edgeMode="duplicate" result="t3"/><feComponentTransfer in="t3"><feFuncR type="table" tableValues="0.275 0.277 0.280 0.282 0.282 0.282 0.278 0.270 0.263 0.255 0.241 0.214 0.188 0.136 0.084 0.075 0.072 0.068 0.065 0.063 0.063 0.063 0.063 0.063 0.063 0.063 0.063 0.063 0.063 0.063 0.063 0.063 0.063 0.063 0.063 0.063 0.063 0.063 0.063 0.063 0.146 0.356 0.515 0.636 0.723 0.807 0.881 0.943 0.954 0.964 0.973 0.973 0.973 0.973 0.974 0.976 0.978 0.980 0.980 0.980 0.980"/><feFuncG type="table" tableValues="0.137 0.146 0.156 0.165 0.188 0.210 0.229 0.244 0.258 0.273 0.298 0.337 0.376 0.421 0.466 0.489 0.510 0.531 0.552 0.571 0.586 0.601 0.615 0.630 0.645 0.660 0.675 0.690 0.698 0.705 0.713 0.720 0.728 0.735 0.742 0.750 0.757 0.765 0.772 0.780 0.784 0.784 0.772 0.749 0.715 0.686 0.671 0.661 0.671 0.682 0.695 0.722 0.748 0.774 0.795 0.812 0.830 0.847 0.872 0.897 0.922"/><feFuncB type="table" tableValues="0.627 0.680 0.732 0.784 0.825 0.866 0.891 0.905 0.919 0.933 0.941 0.941 0.941 0.956 0.971 0.966 0.959 0.952 0.945 0.935 0.920 0.905 0.890 0.874 0.852 0.829 0.807 0.784 0.762 0.739 0.717 0.695 0.666 0.636 0.607 0.577 0.547 0.517 0.487 0.457 0.397 0.293 0.226 0.186 0.169 0.157 0.157 0.155 0.144 0.134 0.122 0.105 0.087 0.070 0.056 0.044 0.032 0.020 0.020 0.020 0.020"/><feFuncA type="linear" slope="0" intercept="1"/></feComponentTransfer></filter>
<filter id="b11" filterUnits="userSpaceOnUse" x="240.0" y="176.5" width="118.3" height="119.0" color-interpolation-filters="sRGB"><feGaussianBlur stdDeviation="5"/></filter>
<clipPath id="c11"><rect x="260.0" y="196.5" width="78.3" height="79.0"/></clipPath>
<filter id="f12" filterUnits="userSpaceOnUse" x="24.9" y="275.5" width="78.8" height="78.4" color-interpolation-filters="sRGB"><feTurbulence type="fractalNoise" baseFrequency="0.42 0.25" numOctaves="2" seed="13" result="n1"/><feColorMatrix in="n1" type="matrix" values="1 0 0 0 0 1 0 0 0 0 1 0 0 0 0 0 0 0 0 1"/><feComponentTransfer result="g1"><feFuncR type="gamma" amplitude="2.500" exponent="1" offset="-1.3000"/><feFuncG type="gamma" amplitude="2.500" exponent="1" offset="-1.3000"/><feFuncB type="gamma" amplitude="2.500" exponent="1" offset="-1.3000"/></feComponentTransfer><feComponentTransfer in="SourceGraphic" result="mk"><feFuncR type="linear" slope="10.000" intercept="-2.500"/><feFuncG type="linear" slope="10.000" intercept="-2.500"/><feFuncB type="linear" slope="10.000" intercept="-2.500"/></feComponentTransfer><feComposite in="mk" in2="g1" operator="arithmetic" k1="1" k2="0" k3="0" k4="0" result="g1m"/><feComposite in="SourceGraphic" in2="g1m" operator="arithmetic" k1="0" k2="1" k3="1" k4="-0.0000" result="t1"/><feTurbulence type="fractalNoise" baseFrequency="0.45 0.2" numOctaves="2" seed="63" result="n2"/><feColorMatrix in="n2" type="matrix" values="0 1 0 0 0 0 1 0 0 0 0 1 0 0 0 0 0 0 0 1" result="g2"/><feComposite in="t1" in2="g2" operator="arithmetic" k1="0" k2="1" k3="0.550" k4="-0.275" result="t2"/><feGaussianBlur in="t2" stdDeviation="0.5" edgeMode="duplicate" result="t3"/><feComponentTransfer in="t3"><feFuncR type="table" tableValues="0.275 0.277 0.280 0.282 0.282 0.282 0.278 0.270 0.263 0.255 0.241 0.214 0.188 0.136 0.084 0.075 0.072 0.068 0.065 0.063 0.063 0.063 0.063 0.063 0.063 0.063 0.063 0.063 0.063 0.063 0.063 0.063 0.063 0.063 0.063 0.063 0.063 0.063 0.063 0.063 0.146 0.356 0.515 0.636 0.723 0.807 0.881 0.943 0.954 0.964 0.973 0.973 0.973 0.973 0.974 0.976 0.978 0.980 0.980 0.980 0.980"/><feFuncG type="table" tableValues="0.137 0.146 0.156 0.165 0.188 0.210 0.229 0.244 0.258 0.273 0.298 0.337 0.376 0.421 0.466 0.489 0.510 0.531 0.552 0.571 0.586 0.601 0.615 0.630 0.645 0.660 0.675 0.690 0.698 0.705 0.713 0.720 0.728 0.735 0.742 0.750 0.757 0.765 0.772 0.780 0.784 0.784 0.772 0.749 0.715 0.686 0.671 0.661 0.671 0.682 0.695 0.722 0.748 0.774 0.795 0.812 0.830 0.847 0.872 0.897 0.922"/><feFuncB type="table" tableValues="0.627 0.680 0.732 0.784 0.825 0.866 0.891 0.905 0.919 0.933 0.941 0.941 0.941 0.956 0.971 0.966 0.959 0.952 0.945 0.935 0.920 0.905 0.890 0.874 0.852 0.829 0.807 0.784 0.762 0.739 0.717 0.695 0.666 0.636 0.607 0.577 0.547 0.517 0.487 0.457 0.397 0.293 0.226 0.186 0.169 0.157 0.157 0.155 0.144 0.134 0.122 0.105 0.087 0.070 0.056 0.044 0.032 0.020 0.020 0.020 0.020"/><feFuncA type="linear" slope="0" intercept="1"/></feComponentTransfer></filter>
<filter id="b12" filterUnits="userSpaceOnUse" x="4.9" y="255.5" width="118.8" height="118.4" color-interpolation-filters="sRGB"><feGaussianBlur stdDeviation="5"/></filter>
<clipPath id="c12"><rect x="24.9" y="275.5" width="78.8" height="78.4"/></clipPath>
<filter id="f13" filterUnits="userSpaceOnUse" x="103.7" y="275.5" width="78.3" height="78.4" color-interpolation-filters="sRGB"><feTurbulence type="fractalNoise" baseFrequency="0.4 0.15" numOctaves="2" seed="14" result="n1"/><feColorMatrix in="n1" type="matrix" values="1 0 0 0 0 1 0 0 0 0 1 0 0 0 0 0 0 0 0 1"/><feComponentTransfer result="g1"><feFuncR type="gamma" exponent="5"/><feFuncG type="gamma" exponent="5"/><feFuncB type="gamma" exponent="5"/></feComponentTransfer><feComposite in="SourceGraphic" in2="g1" operator="arithmetic" k1="0" k2="1" k3="0.600" k4="-0.030" result="t1"/><feTurbulence type="fractalNoise" baseFrequency="0.25 0.06" numOctaves="2" seed="64" result="n2"/><feColorMatrix in="n2" type="matrix" values="0 1 0 0 0 0 1 0 0 0 0 1 0 0 0 0 0 0 0 1" result="g2"/><feComposite in="t1" in2="g2" operator="arithmetic" k1="0" k2="1" k3="0.350" k4="-0.175" result="t2"/><feGaussianBlur in="t2" stdDeviation="0.6" edgeMode="duplicate" result="t3"/><feComponentTransfer in="t3"><feFuncR type="table" tableValues="0.275 0.277 0.280 0.282 0.282 0.282 0.278 0.270 0.263 0.255 0.241 0.214 0.188 0.136 0.084 0.075 0.072 0.068 0.065 0.063 0.063 0.063 0.063 0.063 0.063 0.063 0.063 0.063 0.063 0.063 0.063 0.063 0.063 0.063 0.063 0.063 0.063 0.063 0.063 0.063 0.146 0.356 0.515 0.636 0.723 0.807 0.881 0.943 0.954 0.964 0.973 0.973 0.973 0.973 0.974 0.976 0.978 0.980 0.980 0.980 0.980"/><feFuncG type="table" tableValues="0.137 0.146 0.156 0.165 0.188 0.210 0.229 0.244 0.258 0.273 0.298 0.337 0.376 0.421 0.466 0.489 0.510 0.531 0.552 0.571 0.586 0.601 0.615 0.630 0.645 0.660 0.675 0.690 0.698 0.705 0.713 0.720 0.728 0.735 0.742 0.750 0.757 0.765 0.772 0.780 0.784 0.784 0.772 0.749 0.715 0.686 0.671 0.661 0.671 0.682 0.695 0.722 0.748 0.774 0.795 0.812 0.830 0.847 0.872 0.897 0.922"/><feFuncB type="table" tableValues="0.627 0.680 0.732 0.784 0.825 0.866 0.891 0.905 0.919 0.933 0.941 0.941 0.941 0.956 0.971 0.966 0.959 0.952 0.945 0.935 0.920 0.905 0.890 0.874 0.852 0.829 0.807 0.784 0.762 0.739 0.717 0.695 0.666 0.636 0.607 0.577 0.547 0.517 0.487 0.457 0.397 0.293 0.226 0.186 0.169 0.157 0.157 0.155 0.144 0.134 0.122 0.105 0.087 0.070 0.056 0.044 0.032 0.020 0.020 0.020 0.020"/><feFuncA type="linear" slope="0" intercept="1"/></feComponentTransfer></filter>
<filter id="b13" filterUnits="userSpaceOnUse" x="83.7" y="255.5" width="118.3" height="118.4" color-interpolation-filters="sRGB"><feGaussianBlur stdDeviation="5"/></filter>
<clipPath id="c13"><rect x="103.7" y="275.5" width="78.3" height="78.4"/></clipPath>
<filter id="f14" filterUnits="userSpaceOnUse" x="182.0" y="275.5" width="78.0" height="78.4" color-interpolation-filters="sRGB"><feTurbulence type="fractalNoise" baseFrequency="0.4 0.15" numOctaves="2" seed="15" result="n1"/><feColorMatrix in="n1" type="matrix" values="1 0 0 0 0 1 0 0 0 0 1 0 0 0 0 0 0 0 0 1"/><feComponentTransfer result="g1"><feFuncR type="gamma" exponent="5"/><feFuncG type="gamma" exponent="5"/><feFuncB type="gamma" exponent="5"/></feComponentTransfer><feComposite in="SourceGraphic" in2="g1" operator="arithmetic" k1="0" k2="1" k3="0.400" k4="-0.020" result="t1"/><feTurbulence type="fractalNoise" baseFrequency="0.2 0.05" numOctaves="2" seed="65" result="n2"/><feColorMatrix in="n2" type="matrix" values="0 1 0 0 0 0 1 0 0 0 0 1 0 0 0 0 0 0 0 1" result="g2"/><feComposite in="t1" in2="g2" operator="arithmetic" k1="0" k2="1" k3="0.300" k4="-0.150" result="t2"/><feGaussianBlur in="t2" stdDeviation="0.6" edgeMode="duplicate" result="t3"/><feComponentTransfer in="t3"><feFuncR type="table" tableValues="0.275 0.277 0.280 0.282 0.282 0.282 0.278 0.270 0.263 0.255 0.241 0.214 0.188 0.136 0.084 0.075 0.072 0.068 0.065 0.063 0.063 0.063 0.063 0.063 0.063 0.063 0.063 0.063 0.063 0.063 0.063 0.063 0.063 0.063 0.063 0.063 0.063 0.063 0.063 0.063 0.146 0.356 0.515 0.636 0.723 0.807 0.881 0.943 0.954 0.964 0.973 0.973 0.973 0.973 0.974 0.976 0.978 0.980 0.980 0.980 0.980"/><feFuncG type="table" tableValues="0.137 0.146 0.156 0.165 0.188 0.210 0.229 0.244 0.258 0.273 0.298 0.337 0.376 0.421 0.466 0.489 0.510 0.531 0.552 0.571 0.586 0.601 0.615 0.630 0.645 0.660 0.675 0.690 0.698 0.705 0.713 0.720 0.728 0.735 0.742 0.750 0.757 0.765 0.772 0.780 0.784 0.784 0.772 0.749 0.715 0.686 0.671 0.661 0.671 0.682 0.695 0.722 0.748 0.774 0.795 0.812 0.830 0.847 0.872 0.897 0.922"/><feFuncB type="table" tableValues="0.627 0.680 0.732 0.784 0.825 0.866 0.891 0.905 0.919 0.933 0.941 0.941 0.941 0.956 0.971 0.966 0.959 0.952 0.945 0.935 0.920 0.905 0.890 0.874 0.852 0.829 0.807 0.784 0.762 0.739 0.717 0.695 0.666 0.636 0.607 0.577 0.547 0.517 0.487 0.457 0.397 0.293 0.226 0.186 0.169 0.157 0.157 0.155 0.144 0.134 0.122 0.105 0.087 0.070 0.056 0.044 0.032 0.020 0.020 0.020 0.020"/><feFuncA type="linear" slope="0" intercept="1"/></feComponentTransfer></filter>
<filter id="b14" filterUnits="userSpaceOnUse" x="162.0" y="255.5" width="118.0" height="118.4" color-interpolation-filters="sRGB"><feGaussianBlur stdDeviation="7"/></filter>
<clipPath id="c14"><rect x="182.0" y="275.5" width="78.0" height="78.4"/></clipPath>
<filter id="f15" filterUnits="userSpaceOnUse" x="260.0" y="275.5" width="78.3" height="78.4" color-interpolation-filters="sRGB"><feTurbulence type="fractalNoise" baseFrequency="0.4 0.15" numOctaves="2" seed="16" result="n1"/><feColorMatrix in="n1" type="matrix" values="1 0 0 0 0 1 0 0 0 0 1 0 0 0 0 0 0 0 0 1"/><feComponentTransfer result="g1"><feFuncR type="gamma" exponent="5"/><feFuncG type="gamma" exponent="5"/><feFuncB type="gamma" exponent="5"/></feComponentTransfer><feComposite in="SourceGraphic" in2="g1" operator="arithmetic" k1="0" k2="1" k3="0.400" k4="-0.020" result="t1"/><feTurbulence type="fractalNoise" baseFrequency="0.2 0.05" numOctaves="2" seed="66" result="n2"/><feColorMatrix in="n2" type="matrix" values="0 1 0 0 0 0 1 0 0 0 0 1 0 0 0 0 0 0 0 1" result="g2"/><feComposite in="t1" in2="g2" operator="arithmetic" k1="0" k2="1" k3="0.300" k4="-0.150" result="t2"/><feGaussianBlur in="t2" stdDeviation="0.6" edgeMode="duplicate" result="t3"/><feComponentTransfer in="t3"><feFuncR type="table" tableValues="0.275 0.277 0.280 0.282 0.282 0.282 0.278 0.270 0.263 0.255 0.241 0.214 0.188 0.136 0.084 0.075 0.072 0.068 0.065 0.063 0.063 0.063 0.063 0.063 0.063 0.063 0.063 0.063 0.063 0.063 0.063 0.063 0.063 0.063 0.063 0.063 0.063 0.063 0.063 0.063 0.146 0.356 0.515 0.636 0.723 0.807 0.881 0.943 0.954 0.964 0.973 0.973 0.973 0.973 0.974 0.976 0.978 0.980 0.980 0.980 0.980"/><feFuncG type="table" tableValues="0.137 0.146 0.156 0.165 0.188 0.210 0.229 0.244 0.258 0.273 0.298 0.337 0.376 0.421 0.466 0.489 0.510 0.531 0.552 0.571 0.586 0.601 0.615 0.630 0.645 0.660 0.675 0.690 0.698 0.705 0.713 0.720 0.728 0.735 0.742 0.750 0.757 0.765 0.772 0.780 0.784 0.784 0.772 0.749 0.715 0.686 0.671 0.661 0.671 0.682 0.695 0.722 0.748 0.774 0.795 0.812 0.830 0.847 0.872 0.897 0.922"/><feFuncB type="table" tableValues="0.627 0.680 0.732 0.784 0.825 0.866 0.891 0.905 0.919 0.933 0.941 0.941 0.941 0.956 0.971 0.966 0.959 0.952 0.945 0.935 0.920 0.905 0.890 0.874 0.852 0.829 0.807 0.784 0.762 0.739 0.717 0.695 0.666 0.636 0.607 0.577 0.547 0.517 0.487 0.457 0.397 0.293 0.226 0.186 0.169 0.157 0.157 0.155 0.144 0.134 0.122 0.105 0.087 0.070 0.056 0.044 0.032 0.020 0.020 0.020 0.020"/><feFuncA type="linear" slope="0" intercept="1"/></feComponentTransfer></filter>
<filter id="b15" filterUnits="userSpaceOnUse" x="240.0" y="255.5" width="118.3" height="118.4" color-interpolation-filters="sRGB"><feGaussianBlur stdDeviation="7"/></filter>
<clipPath id="c15"><polygon points="298.3,275.9 336.7,326.1 295.4,352.6 261.0,298.6"/></clipPath>
<filter id="f16" filterUnits="userSpaceOnUse" x="24.9" y="386.5" width="78.8" height="78.7" color-interpolation-filters="sRGB"><feTurbulence type="fractalNoise" baseFrequency="0.45 0.35" numOctaves="2" seed="17" result="n1"/><feColorMatrix in="n1" type="matrix" values="1 0 0 0 0 1 0 0 0 0 1 0 0 0 0 0 0 0 0 1"/><feComponentTransfer result="g1"><feFuncR type="gamma" amplitude="1.600" exponent="1" offset="-0.7040"/><feFuncG type="gamma" amplitude="1.600" exponent="1" offset="-0.7040"/><feFuncB type="gamma" amplitude="1.600" exponent="1" offset="-0.7040"/></feComponentTransfer><feComposite in="SourceGraphic" in2="g1" operator="arithmetic" k1="0" k2="1" k3="1" k4="-0.0000" result="t1"/><feTurbulence type="fractalNoise" baseFrequency="0.45 0.35" numOctaves="2" seed="67" result="n2"/><feColorMatrix in="n2" type="matrix" values="0 1 0 0 0 0 1 0 0 0 0 1 0 0 0 0 0 0 0 1" result="g2"/><feComposite in="t1" in2="g2" operator="arithmetic" k1="0" k2="1" k3="0.350" k4="-0.175" result="t2"/><feGaussianBlur in="t2" stdDeviation="0.4" edgeMode="duplicate" result="t3"/><feComponentTransfer in="t3"><feFuncR type="table" tableValues="0.275 0.277 0.280 0.282 0.282 0.282 0.278 0.270 0.263 0.255 0.241 0.214 0.188 0.136 0.084 0.075 0.072 0.068 0.065 0.063 0.063 0.063 0.063 0.063 0.063 0.063 0.063 0.063 0.063 0.063 0.063 0.063 0.063 0.063 0.063 0.063 0.063 0.063 0.063 0.063 0.146 0.356 0.515 0.636 0.723 0.807 0.881 0.943 0.954 0.964 0.973 0.973 0.973 0.973 0.974 0.976 0.978 0.980 0.980 0.980 0.980"/><feFuncG type="table" tableValues="0.137 0.146 0.156 0.165 0.188 0.210 0.229 0.244 0.258 0.273 0.298 0.337 0.376 0.421 0.466 0.489 0.510 0.531 0.552 0.571 0.586 0.601 0.615 0.630 0.645 0.660 0.675 0.690 0.698 0.705 0.713 0.720 0.728 0.735 0.742 0.750 0.757 0.765 0.772 0.780 0.784 0.784 0.772 0.749 0.715 0.686 0.671 0.661 0.671 0.682 0.695 0.722 0.748 0.774 0.795 0.812 0.830 0.847 0.872 0.897 0.922"/><feFuncB type="table" tableValues="0.627 0.680 0.732 0.784 0.825 0.866 0.891 0.905 0.919 0.933 0.941 0.941 0.941 0.956 0.971 0.966 0.959 0.952 0.945 0.935 0.920 0.905 0.890 0.874 0.852 0.829 0.807 0.784 0.762 0.739 0.717 0.695 0.666 0.636 0.607 0.577 0.547 0.517 0.487 0.457 0.397 0.293 0.226 0.186 0.169 0.157 0.157 0.155 0.144 0.134 0.122 0.105 0.087 0.070 0.056 0.044 0.032 0.020 0.020 0.020 0.020"/><feFuncA type="linear" slope="0" intercept="1"/></feComponentTransfer></filter>
<filter id="b16" filterUnits="userSpaceOnUse" x="4.9" y="366.5" width="118.8" height="118.7" color-interpolation-filters="sRGB"><feGaussianBlur stdDeviation="5"/></filter>
<clipPath id="c16"><rect x="24.9" y="386.5" width="78.8" height="78.7"/></clipPath>
<filter id="f17" filterUnits="userSpaceOnUse" x="103.7" y="386.5" width="78.3" height="78.7" color-interpolation-filters="sRGB"><feTurbulence type="fractalNoise" baseFrequency="0.15 0.12" numOctaves="2" seed="18" result="n1"/><feColorMatrix in="n1" type="matrix" values="1 0 0 0 0 1 0 0 0 0 1 0 0 0 0 0 0 0 0 1"/><feComponentTransfer result="g1"><feFuncR type="gamma" exponent="2"/><feFuncG type="gamma" exponent="2"/><feFuncB type="gamma" exponent="2"/></feComponentTransfer><feComposite in="SourceGraphic" in2="g1" operator="arithmetic" k1="0" k2="1" k3="0.500" k4="-0.132" result="t1"/><feTurbulence type="fractalNoise" baseFrequency="0.1 0.08" numOctaves="2" seed="68" result="n2"/><feColorMatrix in="n2" type="matrix" values="0 1 0 0 0 0 1 0 0 0 0 1 0 0 0 0 0 0 0 1" result="g2"/><feComposite in="t1" in2="g2" operator="arithmetic" k1="0" k2="1" k3="0.300" k4="-0.150" result="t2"/><feGaussianBlur in="t2" stdDeviation="0.8" edgeMode="duplicate" result="t3"/><feComponentTransfer in="t3"><feFuncR type="table" tableValues="0.275 0.277 0.280 0.282 0.282 0.282 0.278 0.270 0.263 0.255 0.241 0.214 0.188 0.136 0.084 0.075 0.072 0.068 0.065 0.063 0.063 0.063 0.063 0.063 0.063 0.063 0.063 0.063 0.063 0.063 0.063 0.063 0.063 0.063 0.063 0.063 0.063 0.063 0.063 0.063 0.146 0.356 0.515 0.636 0.723 0.807 0.881 0.943 0.954 0.964 0.973 0.973 0.973 0.973 0.974 0.976 0.978 0.980 0.980 0.980 0.980"/><feFuncG type="table" tableValues="0.137 0.146 0.156 0.165 0.188 0.210 0.229 0.244 0.258 0.273 0.298 0.337 0.376 0.421 0.466 0.489 0.510 0.531 0.552 0.571 0.586 0.601 0.615 0.630 0.645 0.660 0.675 0.690 0.698 0.705 0.713 0.720 0.728 0.735 0.742 0.750 0.757 0.765 0.772 0.780 0.784 0.784 0.772 0.749 0.715 0.686 0.671 0.661 0.671 0.682 0.695 0.722 0.748 0.774 0.795 0.812 0.830 0.847 0.872 0.897 0.922"/><feFuncB type="table" tableValues="0.627 0.680 0.732 0.784 0.825 0.866 0.891 0.905 0.919 0.933 0.941 0.941 0.941 0.956 0.971 0.966 0.959 0.952 0.945 0.935 0.920 0.905 0.890 0.874 0.852 0.829 0.807 0.784 0.762 0.739 0.717 0.695 0.666 0.636 0.607 0.577 0.547 0.517 0.487 0.457 0.397 0.293 0.226 0.186 0.169 0.157 0.157 0.155 0.144 0.134 0.122 0.105 0.087 0.070 0.056 0.044 0.032 0.020 0.020 0.020 0.020"/><feFuncA type="linear" slope="0" intercept="1"/></feComponentTransfer></filter>
<filter id="b17" filterUnits="userSpaceOnUse" x="83.7" y="366.5" width="118.3" height="118.7" color-interpolation-filters="sRGB"><feGaussianBlur stdDeviation="5"/></filter>
<clipPath id="c17"><rect x="103.7" y="386.5" width="78.3" height="78.7"/></clipPath>
<filter id="f18" filterUnits="userSpaceOnUse" x="182.0" y="386.5" width="78.0" height="78.7" color-interpolation-filters="sRGB"><feTurbulence type="fractalNoise" baseFrequency="0.15 0.12" numOctaves="2" seed="19" result="n1"/><feColorMatrix in="n1" type="matrix" values="1 0 0 0 0 1 0 0 0 0 1 0 0 0 0 0 0 0 0 1"/><feComponentTransfer result="g1"><feFuncR type="gamma" exponent="2"/><feFuncG type="gamma" exponent="2"/><feFuncB type="gamma" exponent="2"/></feComponentTransfer><feComposite in="SourceGraphic" in2="g1" operator="arithmetic" k1="0" k2="1" k3="0.500" k4="-0.132" result="t1"/><feTurbulence type="fractalNoise" baseFrequency="0.1 0.08" numOctaves="2" seed="69" result="n2"/><feColorMatrix in="n2" type="matrix" values="0 1 0 0 0 0 1 0 0 0 0 1 0 0 0 0 0 0 0 1" result="g2"/><feComposite in="t1" in2="g2" operator="arithmetic" k1="0" k2="1" k3="0.300" k4="-0.150" result="t2"/><feGaussianBlur in="t2" stdDeviation="0.8" edgeMode="duplicate" result="t3"/><feComponentTransfer in="t3"><feFuncR type="table" tableValues="0.275 0.277 0.280 0.282 0.282 0.282 0.278 0.270 0.263 0.255 0.241 0.214 0.188 0.136 0.084 0.075 0.072 0.068 0.065 0.063 0.063 0.063 0.063 0.063 0.063 0.063 0.063 0.063 0.063 0.063 0.063 0.063 0.063 0.063 0.063 0.063 0.063 0.063 0.063 0.063 0.146 0.356 0.515 0.636 0.723 0.807 0.881 0.943 0.954 0.964 0.973 0.973 0.973 0.973 0.974 0.976 0.978 0.980 0.980 0.980 0.980"/><feFuncG type="table" tableValues="0.137 0.146 0.156 0.165 0.188 0.210 0.229 0.244 0.258 0.273 0.298 0.337 0.376 0.421 0.466 0.489 0.510 0.531 0.552 0.571 0.586 0.601 0.615 0.630 0.645 0.660 0.675 0.690 0.698 0.705 0.713 0.720 0.728 0.735 0.742 0.750 0.757 0.765 0.772 0.780 0.784 0.784 0.772 0.749 0.715 0.686 0.671 0.661 0.671 0.682 0.695 0.722 0.748 0.774 0.795 0.812 0.830 0.847 0.872 0.897 0.922"/><feFuncB type="table" tableValues="0.627 0.680 0.732 0.784 0.825 0.866 0.891 0.905 0.919 0.933 0.941 0.941 0.941 0.956 0.971 0.966 0.959 0.952 0.945 0.935 0.920 0.905 0.890 0.874 0.852 0.829 0.807 0.784 0.762 0.739 0.717 0.695 0.666 0.636 0.607 0.577 0.547 0.517 0.487 0.457 0.397 0.293 0.226 0.186 0.169 0.157 0.157 0.155 0.144 0.134 0.122 0.105 0.087 0.070 0.056 0.044 0.032 0.020 0.020 0.020 0.020"/><feFuncA type="linear" slope="0" intercept="1"/></feComponentTransfer></filter>
<filter id="b18" filterUnits="userSpaceOnUse" x="162.0" y="366.5" width="118.0" height="118.7" color-interpolation-filters="sRGB"><feGaussianBlur stdDeviation="5"/></filter>
<clipPath id="c18"><rect x="182.0" y="386.5" width="78.0" height="78.7"/></clipPath>
<filter id="f19" filterUnits="userSpaceOnUse" x="260.0" y="386.5" width="78.3" height="78.7" color-interpolation-filters="sRGB"><feTurbulence type="fractalNoise" baseFrequency="0.45 0.35" numOctaves="2" seed="20" result="n1"/><feColorMatrix in="n1" type="matrix" values="1 0 0 0 0 1 0 0 0 0 1 0 0 0 0 0 0 0 0 1"/><feComponentTransfer result="g1"><feFuncR type="gamma" amplitude="1.600" exponent="1" offset="-0.7040"/><feFuncG type="gamma" amplitude="1.600" exponent="1" offset="-0.7040"/><feFuncB type="gamma" amplitude="1.600" exponent="1" offset="-0.7040"/></feComponentTransfer><feComposite in="SourceGraphic" in2="g1" operator="arithmetic" k1="0" k2="1" k3="1" k4="-0.0000" result="t1"/><feTurbulence type="fractalNoise" baseFrequency="0.45 0.35" numOctaves="2" seed="70" result="n2"/><feColorMatrix in="n2" type="matrix" values="0 1 0 0 0 0 1 0 0 0 0 1 0 0 0 0 0 0 0 1" result="g2"/><feComposite in="t1" in2="g2" operator="arithmetic" k1="0" k2="1" k3="0.350" k4="-0.175" result="t2"/><feGaussianBlur in="t2" stdDeviation="0.4" edgeMode="duplicate" result="t3"/><feComponentTransfer in="t3"><feFuncR type="table" tableValues="0.275 0.277 0.280 0.282 0.282 0.282 0.278 0.270 0.263 0.255 0.241 0.214 0.188 0.136 0.084 0.075 0.072 0.068 0.065 0.063 0.063 0.063 0.063 0.063 0.063 0.063 0.063 0.063 0.063 0.063 0.063 0.063 0.063 0.063 0.063 0.063 0.063 0.063 0.063 0.063 0.146 0.356 0.515 0.636 0.723 0.807 0.881 0.943 0.954 0.964 0.973 0.973 0.973 0.973 0.974 0.976 0.978 0.980 0.980 0.980 0.980"/><feFuncG type="table" tableValues="0.137 0.146 0.156 0.165 0.188 0.210 0.229 0.244 0.258 0.273 0.298 0.337 0.376 0.421 0.466 0.489 0.510 0.531 0.552 0.571 0.586 0.601 0.615 0.630 0.645 0.660 0.675 0.690 0.698 0.705 0.713 0.720 0.728 0.735 0.742 0.750 0.757 0.765 0.772 0.780 0.784 0.784 0.772 0.749 0.715 0.686 0.671 0.661 0.671 0.682 0.695 0.722 0.748 0.774 0.795 0.812 0.830 0.847 0.872 0.897 0.922"/><feFuncB type="table" tableValues="0.627 0.680 0.732 0.784 0.825 0.866 0.891 0.905 0.919 0.933 0.941 0.941 0.941 0.956 0.971 0.966 0.959 0.952 0.945 0.935 0.920 0.905 0.890 0.874 0.852 0.829 0.807 0.784 0.762 0.739 0.717 0.695 0.666 0.636 0.607 0.577 0.547 0.517 0.487 0.457 0.397 0.293 0.226 0.186 0.169 0.157 0.157 0.155 0.144 0.134 0.122 0.105 0.087 0.070 0.056 0.044 0.032 0.020 0.020 0.020 0.020"/><feFuncA type="linear" slope="0" intercept="1"/></feComponentTransfer></filter>
<filter id="b19" filterUnits="userSpaceOnUse" x="240.0" y="366.5" width="118.3" height="118.7" color-interpolation-filters="sRGB"><feGaussianBlur stdDeviation="5"/></filter>
<clipPath id="c19"><rect x="260.0" y="386.5" width="78.3" height="78.7"/></clipPath>
<filter id="f20" filterUnits="userSpaceOnUse" x="24.9" y="465.2" width="78.8" height="78.3" color-interpolation-filters="sRGB"><feTurbulence type="fractalNoise" baseFrequency="0.45 0.35" numOctaves="2" seed="21" result="n1"/><feColorMatrix in="n1" type="matrix" values="1 0 0 0 0 1 0 0 0 0 1 0 0 0 0 0 0 0 0 1"/><feComponentTransfer result="g1"><feFuncR type="gamma" amplitude="1.600" exponent="1" offset="-0.7040"/><feFuncG type="gamma" amplitude="1.600" exponent="1" offset="-0.7040"/><feFuncB type="gamma" amplitude="1.600" exponent="1" offset="-0.7040"/></feComponentTransfer><feComposite in="SourceGraphic" in2="g1" operator="arithmetic" k1="0" k2="1" k3="1" k4="-0.0000" result="t1"/><feTurbulence type="fractalNoise" baseFrequency="0.45 0.35" numOctaves="2" seed="71" result="n2"/><feColorMatrix in="n2" type="matrix" values="0 1 0 0 0 0 1 0 0 0 0 1 0 0 0 0 0 0 0 1" result="g2"/><feComposite in="t1" in2="g2" operator="arithmetic" k1="0" k2="1" k3="0.350" k4="-0.175" result="t2"/><feGaussianBlur in="t2" stdDeviation="0.4" edgeMode="duplicate" result="t3"/><feComponentTransfer in="t3"><feFuncR type="table" tableValues="0.275 0.277 0.280 0.282 0.282 0.282 0.278 0.270 0.263 0.255 0.241 0.214 0.188 0.136 0.084 0.075 0.072 0.068 0.065 0.063 0.063 0.063 0.063 0.063 0.063 0.063 0.063 0.063 0.063 0.063 0.063 0.063 0.063 0.063 0.063 0.063 0.063 0.063 0.063 0.063 0.146 0.356 0.515 0.636 0.723 0.807 0.881 0.943 0.954 0.964 0.973 0.973 0.973 0.973 0.974 0.976 0.978 0.980 0.980 0.980 0.980"/><feFuncG type="table" tableValues="0.137 0.146 0.156 0.165 0.188 0.210 0.229 0.244 0.258 0.273 0.298 0.337 0.376 0.421 0.466 0.489 0.510 0.531 0.552 0.571 0.586 0.601 0.615 0.630 0.645 0.660 0.675 0.690 0.698 0.705 0.713 0.720 0.728 0.735 0.742 0.750 0.757 0.765 0.772 0.780 0.784 0.784 0.772 0.749 0.715 0.686 0.671 0.661 0.671 0.682 0.695 0.722 0.748 0.774 0.795 0.812 0.830 0.847 0.872 0.897 0.922"/><feFuncB type="table" tableValues="0.627 0.680 0.732 0.784 0.825 0.866 0.891 0.905 0.919 0.933 0.941 0.941 0.941 0.956 0.971 0.966 0.959 0.952 0.945 0.935 0.920 0.905 0.890 0.874 0.852 0.829 0.807 0.784 0.762 0.739 0.717 0.695 0.666 0.636 0.607 0.577 0.547 0.517 0.487 0.457 0.397 0.293 0.226 0.186 0.169 0.157 0.157 0.155 0.144 0.134 0.122 0.105 0.087 0.070 0.056 0.044 0.032 0.020 0.020 0.020 0.020"/><feFuncA type="linear" slope="0" intercept="1"/></feComponentTransfer></filter>
<filter id="b20" filterUnits="userSpaceOnUse" x="4.9" y="445.2" width="118.8" height="118.3" color-interpolation-filters="sRGB"><feGaussianBlur stdDeviation="5"/></filter>
<clipPath id="c20"><rect x="24.9" y="465.2" width="78.8" height="78.3"/></clipPath>
<filter id="f21" filterUnits="userSpaceOnUse" x="103.7" y="465.2" width="78.3" height="78.3" color-interpolation-filters="sRGB"><feTurbulence type="fractalNoise" baseFrequency="0.15 0.12" numOctaves="2" seed="22" result="n1"/><feColorMatrix in="n1" type="matrix" values="1 0 0 0 0 1 0 0 0 0 1 0 0 0 0 0 0 0 0 1"/><feComponentTransfer result="g1"><feFuncR type="gamma" exponent="2"/><feFuncG type="gamma" exponent="2"/><feFuncB type="gamma" exponent="2"/></feComponentTransfer><feComposite in="SourceGraphic" in2="g1" operator="arithmetic" k1="0" k2="1" k3="0.500" k4="-0.132" result="t1"/><feTurbulence type="fractalNoise" baseFrequency="0.1 0.08" numOctaves="2" seed="72" result="n2"/><feColorMatrix in="n2" type="matrix" values="0 1 0 0 0 0 1 0 0 0 0 1 0 0 0 0 0 0 0 1" result="g2"/><feComposite in="t1" in2="g2" operator="arithmetic" k1="0" k2="1" k3="0.300" k4="-0.150" result="t2"/><feGaussianBlur in="t2" stdDeviation="0.8" edgeMode="duplicate" result="t3"/><feComponentTransfer in="t3"><feFuncR type="table" tableValues="0.275 0.277 0.280 0.282 0.282 0.282 0.278 0.270 0.263 0.255 0.241 0.214 0.188 0.136 0.084 0.075 0.072 0.068 0.065 0.063 0.063 0.063 0.063 0.063 0.063 0.063 0.063 0.063 0.063 0.063 0.063 0.063 0.063 0.063 0.063 0.063 0.063 0.063 0.063 0.063 0.146 0.356 0.515 0.636 0.723 0.807 0.881 0.943 0.954 0.964 0.973 0.973 0.973 0.973 0.974 0.976 0.978 0.980 0.980 0.980 0.980"/><feFuncG type="table" tableValues="0.137 0.146 0.156 0.165 0.188 0.210 0.229 0.244 0.258 0.273 0.298 0.337 0.376 0.421 0.466 0.489 0.510 0.531 0.552 0.571 0.586 0.601 0.615 0.630 0.645 0.660 0.675 0.690 0.698 0.705 0.713 0.720 0.728 0.735 0.742 0.750 0.757 0.765 0.772 0.780 0.784 0.784 0.772 0.749 0.715 0.686 0.671 0.661 0.671 0.682 0.695 0.722 0.748 0.774 0.795 0.812 0.830 0.847 0.872 0.897 0.922"/><feFuncB type="table" tableValues="0.627 0.680 0.732 0.784 0.825 0.866 0.891 0.905 0.919 0.933 0.941 0.941 0.941 0.956 0.971 0.966 0.959 0.952 0.945 0.935 0.920 0.905 0.890 0.874 0.852 0.829 0.807 0.784 0.762 0.739 0.717 0.695 0.666 0.636 0.607 0.577 0.547 0.517 0.487 0.457 0.397 0.293 0.226 0.186 0.169 0.157 0.157 0.155 0.144 0.134 0.122 0.105 0.087 0.070 0.056 0.044 0.032 0.020 0.020 0.020 0.020"/><feFuncA type="linear" slope="0" intercept="1"/></feComponentTransfer></filter>
<filter id="b21" filterUnits="userSpaceOnUse" x="83.7" y="445.2" width="118.3" height="118.3" color-interpolation-filters="sRGB"><feGaussianBlur stdDeviation="5"/></filter>
<clipPath id="c21"><rect x="103.7" y="465.2" width="78.3" height="78.3"/></clipPath>
<filter id="f22" filterUnits="userSpaceOnUse" x="182.0" y="465.2" width="78.0" height="78.3" color-interpolation-filters="sRGB"><feTurbulence type="fractalNoise" baseFrequency="0.1 0.08" numOctaves="2" seed="23" result="n1"/><feColorMatrix in="n1" type="matrix" values="1 0 0 0 0 1 0 0 0 0 1 0 0 0 0 0 0 0 0 1"/><feComponentTransfer result="g1"><feFuncR type="gamma" exponent="2"/><feFuncG type="gamma" exponent="2"/><feFuncB type="gamma" exponent="2"/></feComponentTransfer><feComposite in="SourceGraphic" in2="g1" operator="arithmetic" k1="0" k2="1" k3="0.300" k4="-0.079" result="t1"/><feTurbulence type="fractalNoise" baseFrequency="0.06 0.05" numOctaves="2" seed="73" result="n2"/><feColorMatrix in="n2" type="matrix" values="0 1 0 0 0 0 1 0 0 0 0 1 0 0 0 0 0 0 0 1" result="g2"/><feComposite in="t1" in2="g2" operator="arithmetic" k1="0" k2="1" k3="0.300" k4="-0.150" result="t2"/><feGaussianBlur in="t2" stdDeviation="1.0" edgeMode="duplicate" result="t3"/><feComponentTransfer in="t3"><feFuncR type="table" tableValues="0.275 0.277 0.280 0.282 0.282 0.282 0.278 0.270 0.263 0.255 0.241 0.214 0.188 0.136 0.084 0.075 0.072 0.068 0.065 0.063 0.063 0.063 0.063 0.063 0.063 0.063 0.063 0.063 0.063 0.063 0.063 0.063 0.063 0.063 0.063 0.063 0.063 0.063 0.063 0.063 0.146 0.356 0.515 0.636 0.723 0.807 0.881 0.943 0.954 0.964 0.973 0.973 0.973 0.973 0.974 0.976 0.978 0.980 0.980 0.980 0.980"/><feFuncG type="table" tableValues="0.137 0.146 0.156 0.165 0.188 0.210 0.229 0.244 0.258 0.273 0.298 0.337 0.376 0.421 0.466 0.489 0.510 0.531 0.552 0.571 0.586 0.601 0.615 0.630 0.645 0.660 0.675 0.690 0.698 0.705 0.713 0.720 0.728 0.735 0.742 0.750 0.757 0.765 0.772 0.780 0.784 0.784 0.772 0.749 0.715 0.686 0.671 0.661 0.671 0.682 0.695 0.722 0.748 0.774 0.795 0.812 0.830 0.847 0.872 0.897 0.922"/><feFuncB type="table" tableValues="0.627 0.680 0.732 0.784 0.825 0.866 0.891 0.905 0.919 0.933 0.941 0.941 0.941 0.956 0.971 0.966 0.959 0.952 0.945 0.935 0.920 0.905 0.890 0.874 0.852 0.829 0.807 0.784 0.762 0.739 0.717 0.695 0.666 0.636 0.607 0.577 0.547 0.517 0.487 0.457 0.397 0.293 0.226 0.186 0.169 0.157 0.157 0.155 0.144 0.134 0.122 0.105 0.087 0.070 0.056 0.044 0.032 0.020 0.020 0.020 0.020"/><feFuncA type="linear" slope="0" intercept="1"/></feComponentTransfer></filter>
<filter id="b22" filterUnits="userSpaceOnUse" x="162.0" y="445.2" width="118.0" height="118.3" color-interpolation-filters="sRGB"><feGaussianBlur stdDeviation="4"/></filter>
<clipPath id="c22"><rect x="182.0" y="465.2" width="78.0" height="78.3"/></clipPath>
<filter id="f23" filterUnits="userSpaceOnUse" x="260.0" y="465.2" width="78.3" height="78.3" color-interpolation-filters="sRGB"><feTurbulence type="fractalNoise" baseFrequency="0.15 0.12" numOctaves="2" seed="24" result="n1"/><feColorMatrix in="n1" type="matrix" values="1 0 0 0 0 1 0 0 0 0 1 0 0 0 0 0 0 0 0 1"/><feComponentTransfer result="g1"><feFuncR type="gamma" exponent="2"/><feFuncG type="gamma" exponent="2"/><feFuncB type="gamma" exponent="2"/></feComponentTransfer><feComposite in="SourceGraphic" in2="g1" operator="arithmetic" k1="0" k2="1" k3="0.500" k4="-0.132" result="t1"/><feTurbulence type="fractalNoise" baseFrequency="0.1 0.08" numOctaves="2" seed="74" result="n2"/><feColorMatrix in="n2" type="matrix" values="0 1 0 0 0 0 1 0 0 0 0 1 0 0 0 0 0 0 0 1" result="g2"/><feComposite in="t1" in2="g2" operator="arithmetic" k1="0" k2="1" k3="0.300" k4="-0.150" result="t2"/><feGaussianBlur in="t2" stdDeviation="0.8" edgeMode="duplicate" result="t3"/><feComponentTransfer in="t3"><feFuncR type="table" tableValues="0.275 0.277 0.280 0.282 0.282 0.282 0.278 0.270 0.263 0.255 0.241 0.214 0.188 0.136 0.084 0.075 0.072 0.068 0.065 0.063 0.063 0.063 0.063 0.063 0.063 0.063 0.063 0.063 0.063 0.063 0.063 0.063 0.063 0.063 0.063 0.063 0.063 0.063 0.063 0.063 0.146 0.356 0.515 0.636 0.723 0.807 0.881 0.943 0.954 0.964 0.973 0.973 0.973 0.973 0.974 0.976 0.978 0.980 0.980 0.980 0.980"/><feFuncG type="table" tableValues="0.137 0.146 0.156 0.165 0.188 0.210 0.229 0.244 0.258 0.273 0.298 0.337 0.376 0.421 0.466 0.489 0.510 0.531 0.552 0.571 0.586 0.601 0.615 0.630 0.645 0.660 0.675 0.690 0.698 0.705 0.713 0.720 0.728 0.735 0.742 0.750 0.757 0.765 0.772 0.780 0.784 0.784 0.772 0.749 0.715 0.686 0.671 0.661 0.671 0.682 0.695 0.722 0.748 0.774 0.795 0.812 0.830 0.847 0.872 0.897 0.922"/><feFuncB type="table" tableValues="0.627 0.680 0.732 0.784 0.825 0.866 0.891 0.905 0.919 0.933 0.941 0.941 0.941 0.956 0.971 0.966 0.959 0.952 0.945 0.935 0.920 0.905 0.890 0.874 0.852 0.829 0.807 0.784 0.762 0.739 0.717 0.695 0.666 0.636 0.607 0.577 0.547 0.517 0.487 0.457 0.397 0.293 0.226 0.186 0.169 0.157 0.157 0.155 0.144 0.134 0.122 0.105 0.087 0.070 0.056 0.044 0.032 0.020 0.020 0.020 0.020"/><feFuncA type="linear" slope="0" intercept="1"/></feComponentTransfer></filter>
<filter id="b23" filterUnits="userSpaceOnUse" x="240.0" y="445.2" width="118.3" height="118.3" color-interpolation-filters="sRGB"><feGaussianBlur stdDeviation="5"/></filter>
<clipPath id="c23"><polygon points="300.3,466.3 338.5,469.5 299.3,543.8 263.9,540.0"/></clipPath></defs>
<g filter="url(#chroma)">
<rect width="417" height="550" fill="#fff"/>
<g clip-path="url(#c0)"><g filter="url(#f0)"><g filter="url(#b0)"><rect x="9.9" y="-8.9" width="31.3" height="31.1" fill="rgb(130,130,130)"/><rect x="40.7" y="-8.9" width="16.3" height="31.1" fill="rgb(125,125,125)"/><rect x="56.4" y="-8.9" width="16.3" height="31.1" fill="rgb(117,117,117)"/><rect x="72.2" y="-8.9" width="16.3" height="31.1" fill="rgb(99,99,99)"/><rect x="87.9" y="-8.9" width="31.3" height="31.1" fill="rgb(89,89,89)"/><rect x="9.9" y="21.7" width="31.3" height="16.1" fill="rgb(133,133,133)"/><rect x="40.7" y="21.7" width="16.3" height="16.1" fill="rgb(125,125,125)"/><rect x="56.4" y="21.7" width="16.3" height="16.1" fill="rgb(117,117,117)"/><rect x="72.2" y="21.7" width="16.3" height="16.1" fill="rgb(102,102,102)"/><rect x="87.9" y="21.7" width="31.3" height="16.1" fill="rgb(92,92,92)"/><rect x="9.9" y="37.4" width="31.3" height="16.1" fill="rgb(138,138,138)"/><rect x="40.7" y="37.4" width="16.3" height="16.1" fill="rgb(128,128,128)"/><rect x="56.4" y="37.4" width="16.3" height="16.1" fill="rgb(117,117,117)"/><rect x="72.2" y="37.4" width="16.3" height="16.1" fill="rgb(107,107,107)"/><rect x="87.9" y="37.4" width="31.3" height="16.1" fill="rgb(99,99,99)"/><rect x="9.9" y="53.0" width="31.3" height="16.1" fill="rgb(143,143,143)"/><rect x="40.7" y="53.0" width="16.3" height="16.1" fill="rgb(130,130,130)"/><rect x="56.4" y="53.0" width="16.3" height="16.1" fill="rgb(120,120,120)"/><rect x="72.2" y="53.0" width="16.3" height="16.1" fill="rgb(107,107,107)"/><rect x="87.9" y="53.0" width="31.3" height="16.1" fill="rgb(99,99,99)"/><rect x="9.9" y="68.6" width="31.3" height="31.1" fill="rgb(145,145,145)"/><rect x="40.7" y="68.6" width="16.3" height="31.1" fill="rgb(133,133,133)"/><rect x="56.4" y="68.6" width="16.3" height="31.1" fill="rgb(120,120,120)"/><rect x="72.2" y="68.6" width="16.3" height="31.1" fill="rgb(107,107,107)"/><rect x="87.9" y="68.6" width="31.3" height="31.1" fill="rgb(102,102,102)"/><polygon points="80.9,1.1 114.9,1.1 114.9,52.1 102.9,48.1 78.9,25.1" fill="rgb(92,92,92)"/><polygon points="19.9,42.1 28.9,46.1 60.9,90.1 19.9,90.1" fill="rgb(153,153,153)"/></g><line x1="82.9" y1="5.1" x2="79.4" y2="25.1" stroke="rgb(66,66,66)" stroke-width="1.2" stroke-linecap="round"/><line x1="79.4" y1="25.1" x2="104.9" y2="49.1" stroke="rgb(66,66,66)" stroke-width="1.2" stroke-linecap="round"/></g></g>
<g clip-path="url(#c1)"><g filter="url(#f1)"><g filter="url(#b1)"><rect x="88.7" y="-8.9" width="31.2" height="31.1" fill="rgb(122,122,122)"/><rect x="119.4" y="-8.9" width="16.2" height="31.1" fill="rgb(117,117,117)"/><rect x="135.0" y="-8.9" width="16.2" height="31.1" fill="rgb(110,110,110)"/><rect x="150.7" y="-8.9" width="16.2" height="31.1" fill="rgb(92,92,92)"/><rect x="166.3" y="-8.9" width="31.2" height="31.1" fill="rgb(82,82,82)"/><rect x="88.7" y="21.7" width="31.2" height="16.1" fill="rgb(125,125,125)"/><rect x="119.4" y="21.7" width="16.2" height="16.1" fill="rgb(117,117,117)"/><rect x="135.0" y="21.7" width="16.2" height="16.1" fill="rgb(110,110,110)"/><rect x="150.7" y="21.7" width="16.2" height="16.1" fill="rgb(94,94,94)"/><rect x="166.3" y="21.7" width="31.2" height="16.1" fill="rgb(84,84,84)"/><rect x="88.7" y="37.4" width="31.2" height="16.1" fill="rgb(130,130,130)"/><rect x="119.4" y="37.4" width="16.2" height="16.1" fill="rgb(120,120,120)"/><rect x="135.0" y="37.4" width="16.2" height="16.1" fill="rgb(110,110,110)"/><rect x="150.7" y="37.4" width="16.2" height="16.1" fill="rgb(99,99,99)"/><rect x="166.3" y="37.4" width="31.2" height="16.1" fill="rgb(92,92,92)"/><rect x="88.7" y="53.0" width="31.2" height="16.1" fill="rgb(135,135,135)"/><rect x="119.4" y="53.0" width="16.2" height="16.1" fill="rgb(122,122,122)"/><rect x="135.0" y="53.0" width="16.2" height="16.1" fill="rgb(112,112,112)"/><rect x="150.7" y="53.0" width="16.2" height="16.1" fill="rgb(99,99,99)"/><rect x="166.3" y="53.0" width="31.2" height="16.1" fill="rgb(92,92,92)"/><rect x="88.7" y="68.6" width="31.2" height="31.1" fill="rgb(138,138,138)"/><rect x="119.4" y="68.6" width="16.2" height="31.1" fill="rgb(125,125,125)"/><rect x="135.0" y="68.6" width="16.2" height="31.1" fill="rgb(112,112,112)"/><rect x="150.7" y="68.6" width="16.2" height="31.1" fill="rgb(99,99,99)"/><rect x="166.3" y="68.6" width="31.2" height="31.1" fill="rgb(94,94,94)"/><polygon points="159.7,1.1 193.7,1.1 193.7,52.1 181.7,48.1 157.7,25.1" fill="rgb(89,89,89)"/><polygon points="98.7,42.1 107.7,46.1 139.7,90.1 98.7,90.1" fill="rgb(145,145,145)"/></g><line x1="161.7" y1="5.1" x2="158.2" y2="25.1" stroke="rgb(79,79,79)" stroke-width="1.0" stroke-linecap="round"/><line x1="158.2" y1="25.1" x2="183.7" y2="49.1" stroke="rgb(79,79,79)" stroke-width="1.0" stroke-linecap="round"/></g></g>
<g clip-path="url(#c2)"><g filter="url(#f2)"><g filter="url(#b2)"><rect x="167.0" y="-8.9" width="31.1" height="31.1" fill="rgb(120,120,120)"/><rect x="197.6" y="-8.9" width="16.1" height="31.1" fill="rgb(115,115,115)"/><rect x="213.2" y="-8.9" width="16.1" height="31.1" fill="rgb(107,107,107)"/><rect x="228.8" y="-8.9" width="16.1" height="31.1" fill="rgb(89,89,89)"/><rect x="244.4" y="-8.9" width="31.1" height="31.1" fill="rgb(79,79,79)"/><rect x="167.0" y="21.7" width="31.1" height="16.1" fill="rgb(122,122,122)"/><rect x="197.6" y="21.7" width="16.1" height="16.1" fill="rgb(115,115,115)"/><rect x="213.2" y="21.7" width="16.1" height="16.1" fill="rgb(107,107,107)"/><rect x="228.8" y="21.7" width="16.1" height="16.1" fill="rgb(92,92,92)"/><rect x="244.4" y="21.7" width="31.1" height="16.1" fill="rgb(82,82,82)"/><rect x="167.0" y="37.4" width="31.1" height="16.1" fill="rgb(128,128,128)"/><rect x="197.6" y="37.4" width="16.1" height="16.1" fill="rgb(117,117,117)"/><rect x="213.2" y="37.4" width="16.1" height="16.1" fill="rgb(107,107,107)"/><rect x="228.8" y="37.4" width="16.1" height="16.1" fill="rgb(97,97,97)"/><rect x="244.4" y="37.4" width="31.1" height="16.1" fill="rgb(89,89,89)"/><rect x="167.0" y="53.0" width="31.1" height="16.1" fill="rgb(133,133,133)"/><rect x="197.6" y="53.0" width="16.1" height="16.1" fill="rgb(120,120,120)"/><rect x="213.2" y="53.0" width="16.1" height="16.1" fill="rgb(110,110,110)"/><rect x="228.8" y="53.0" width="16.1" height="16.1" fill="rgb(97,97,97)"/><rect x="244.4" y="53.0" width="31.1" height="16.1" fill="rgb(89,89,89)"/><rect x="167.0" y="68.6" width="31.1" height="31.1" fill="rgb(135,135,135)"/><rect x="197.6" y="68.6" width="16.1" height="31.1" fill="rgb(122,122,122)"/><rect x="213.2" y="68.6" width="16.1" height="31.1" fill="rgb(110,110,110)"/><rect x="228.8" y="68.6" width="16.1" height="31.1" fill="rgb(97,97,97)"/><rect x="244.4" y="68.6" width="31.1" height="31.1" fill="rgb(92,92,92)"/><polygon points="238.0,1.1 272.0,1.1 272.0,52.1 260.0,48.1 236.0,25.1" fill="rgb(89,89,89)"/><polygon points="177.0,42.1 186.0,46.1 218.0,90.1 177.0,90.1" fill="rgb(145,145,145)"/></g><line x1="240.0" y1="5.1" x2="236.5" y2="25.1" stroke="rgb(79,79,79)" stroke-width="1.0" stroke-linecap="round"/><line x1="236.5" y1="25.1" x2="262.0" y2="49.1" stroke="rgb(79,79,79)" stroke-width="1.0" stroke-linecap="round"/></g></g>
<g clip-path="url(#c3)"><g filter="url(#f3)"><g filter="url(#b3)"><rect x="245.0" y="-8.9" width="31.2" height="31.1" fill="rgb(133,133,133)"/><rect x="275.7" y="-8.9" width="16.2" height="31.1" fill="rgb(128,128,128)"/><rect x="291.3" y="-8.9" width="16.2" height="31.1" fill="rgb(120,120,120)"/><rect x="307.0" y="-8.9" width="16.2" height="31.1" fill="rgb(102,102,102)"/><rect x="322.6" y="-8.9" width="31.2" height="31.1" fill="rgb(92,92,92)"/><rect x="245.0" y="21.7" width="31.2" height="16.1" fill="rgb(135,135,135)"/><rect x="275.7" y="21.7" width="16.2" height="16.1" fill="rgb(128,128,128)"/><rect x="291.3" y="21.7" width="16.2" height="16.1" fill="rgb(120,120,120)"/><rect x="307.0" y="21.7" width="16.2" height="16.1" fill="rgb(105,105,105)"/><rect x="322.6" y="21.7" width="31.2" height="16.1" fill="rgb(94,94,94)"/><rect x="245.0" y="37.4" width="31.2" height="16.1" fill="rgb(140,140,140)"/><rect x="275.7" y="37.4" width="16.2" height="16.1" fill="rgb(130,130,130)"/><rect x="291.3" y="37.4" width="16.2" height="16.1" fill="rgb(120,120,120)"/><rect x="307.0" y="37.4" width="16.2" height="16.1" fill="rgb(110,110,110)"/><rect x="322.6" y="37.4" width="31.2" height="16.1" fill="rgb(102,102,102)"/><rect x="245.0" y="53.0" width="31.2" height="16.1" fill="rgb(145,145,145)"/><rect x="275.7" y="53.0" width="16.2" height="16.1" fill="rgb(133,133,133)"/><rect x="291.3" y="53.0" width="16.2" height="16.1" fill="rgb(122,122,122)"/><rect x="307.0" y="53.0" width="16.2" height="16.1" fill="rgb(110,110,110)"/><rect x="322.6" y="53.0" width="31.2" height="16.1" fill="rgb(102,102,102)"/><rect x="245.0" y="68.6" width="31.2" height="31.1" fill="rgb(148,148,148)"/><rect x="275.7" y="68.6" width="16.2" height="31.1" fill="rgb(135,135,135)"/><rect x="291.3" y="68.6" width="16.2" height="31.1" fill="rgb(122,122,122)"/><rect x="307.0" y="68.6" width="16.2" height="31.1" fill="rgb(110,110,110)"/><rect x="322.6" y="68.6" width="31.2" height="31.1" fill="rgb(105,105,105)"/><polygon points="316.0,1.1 350.0,1.1 350.0,52.1 338.0,48.1 314.0,25.1" fill="rgb(92,92,92)"/><polygon points="255.0,42.1 264.0,46.1 296.0,90.1 255.0,90.1" fill="rgb(153,153,153)"/></g><line x1="318.0" y1="5.1" x2="314.5" y2="25.1" stroke="rgb(66,66,66)" stroke-width="1.2" stroke-linecap="round"/><line x1="314.5" y1="25.1" x2="340.0" y2="49.1" stroke="rgb(66,66,66)" stroke-width="1.2" stroke-linecap="round"/></g></g>
<g clip-path="url(#c4)"><g filter="url(#f4)"><g filter="url(#b4)"><rect x="9.9" y="69.2" width="31.3" height="31.2" fill="rgb(130,130,130)"/><rect x="40.7" y="69.2" width="16.3" height="31.2" fill="rgb(125,125,125)"/><rect x="56.4" y="69.2" width="16.3" height="31.2" fill="rgb(117,117,117)"/><rect x="72.2" y="69.2" width="16.3" height="31.2" fill="rgb(99,99,99)"/><rect x="87.9" y="69.2" width="31.3" height="31.2" fill="rgb(89,89,89)"/><rect x="9.9" y="99.9" width="31.3" height="16.2" fill="rgb(133,133,133)"/><rect x="40.7" y="99.9" width="16.3" height="16.2" fill="rgb(125,125,125)"/><rect x="56.4" y="99.9" width="16.3" height="16.2" fill="rgb(117,117,117)"/><rect x="72.2" y="99.9" width="16.3" height="16.2" fill="rgb(102,102,102)"/><rect x="87.9" y="99.9" width="31.3" height="16.2" fill="rgb(92,92,92)"/><rect x="9.9" y="115.6" width="31.3" height="16.2" fill="rgb(138,138,138)"/><rect x="40.7" y="115.6" width="16.3" height="16.2" fill="rgb(128,128,128)"/><rect x="56.4" y="115.6" width="16.3" height="16.2" fill="rgb(117,117,117)"/><rect x="72.2" y="115.6" width="16.3" height="16.2" fill="rgb(107,107,107)"/><rect x="87.9" y="115.6" width="31.3" height="16.2" fill="rgb(99,99,99)"/><rect x="9.9" y="131.3" width="31.3" height="16.2" fill="rgb(143,143,143)"/><rect x="40.7" y="131.3" width="16.3" height="16.2" fill="rgb(130,130,130)"/><rect x="56.4" y="131.3" width="16.3" height="16.2" fill="rgb(120,120,120)"/><rect x="72.2" y="131.3" width="16.3" height="16.2" fill="rgb(107,107,107)"/><rect x="87.9" y="131.3" width="31.3" height="16.2" fill="rgb(99,99,99)"/><rect x="9.9" y="146.9" width="31.3" height="31.2" fill="rgb(145,145,145)"/><rect x="40.7" y="146.9" width="16.3" height="31.2" fill="rgb(133,133,133)"/><rect x="56.4" y="146.9" width="16.3" height="31.2" fill="rgb(120,120,120)"/><rect x="72.2" y="146.9" width="16.3" height="31.2" fill="rgb(107,107,107)"/><rect x="87.9" y="146.9" width="31.3" height="31.2" fill="rgb(102,102,102)"/><polygon points="80.9,79.2 114.9,79.2 114.9,130.2 102.9,126.2 78.9,103.2" fill="rgb(92,92,92)"/><polygon points="19.9,120.2 28.9,124.2 60.9,168.2 19.9,168.2" fill="rgb(153,153,153)"/></g><line x1="82.9" y1="83.2" x2="79.4" y2="103.2" stroke="rgb(66,66,66)" stroke-width="1.2" stroke-linecap="round"/><line x1="79.4" y1="103.2" x2="104.9" y2="127.2" stroke="rgb(66,66,66)" stroke-width="1.2" stroke-linecap="round"/></g></g>
<g clip-path="url(#c5)"><g filter="url(#f5)"><g filter="url(#b5)"><rect x="88.7" y="69.2" width="31.2" height="31.2" fill="rgb(122,122,122)"/><rect x="119.4" y="69.2" width="16.2" height="31.2" fill="rgb(117,117,117)"/><rect x="135.0" y="69.2" width="16.2" height="31.2" fill="rgb(110,110,110)"/><rect x="150.7" y="69.2" width="16.2" height="31.2" fill="rgb(92,92,92)"/><rect x="166.3" y="69.2" width="31.2" height="31.2" fill="rgb(82,82,82)"/><rect x="88.7" y="99.9" width="31.2" height="16.2" fill="rgb(125,125,125)"/><rect x="119.4" y="99.9" width="16.2" height="16.2" fill="rgb(117,117,117)"/><rect x="135.0" y="99.9" width="16.2" height="16.2" fill="rgb(110,110,110)"/><rect x="150.7" y="99.9" width="16.2" height="16.2" fill="rgb(94,94,94)"/><rect x="166.3" y="99.9" width="31.2" height="16.2" fill="rgb(84,84,84)"/><rect x="88.7" y="115.6" width="31.2" height="16.2" fill="rgb(130,130,130)"/><rect x="119.4" y="115.6" width="16.2" height="16.2" fill="rgb(120,120,120)"/><rect x="135.0" y="115.6" width="16.2" height="16.2" fill="rgb(110,110,110)"/><rect x="150.7" y="115.6" width="16.2" height="16.2" fill="rgb(99,99,99)"/><rect x="166.3" y="115.6" width="31.2" height="16.2" fill="rgb(92,92,92)"/><rect x="88.7" y="131.3" width="31.2" height="16.2" fill="rgb(135,135,135)"/><rect x="119.4" y="131.3" width="16.2" height="16.2" fill="rgb(122,122,122)"/><rect x="135.0" y="131.3" width="16.2" height="16.2" fill="rgb(112,112,112)"/><rect x="150.7" y="131.3" width="16.2" height="16.2" fill="rgb(99,99,99)"/><rect x="166.3" y="131.3" width="31.2" height="16.2" fill="rgb(92,92,92)"/><rect x="88.7" y="146.9" width="31.2" height="31.2" fill="rgb(138,138,138)"/><rect x="119.4" y="146.9" width="16.2" height="31.2" fill="rgb(125,125,125)"/><rect x="135.0" y="146.9" width="16.2" height="31.2" fill="rgb(112,112,112)"/><rect x="150.7" y="146.9" width="16.2" height="31.2" fill="rgb(99,99,99)"/><rect x="166.3" y="146.9" width="31.2" height="31.2" fill="rgb(94,94,94)"/><polygon points="159.7,79.2 193.7,79.2 193.7,130.2 181.7,126.2 157.7,103.2" fill="rgb(89,89,89)"/><polygon points="98.7,120.2 107.7,124.2 139.7,168.2 98.7,168.2" fill="rgb(145,145,145)"/></g><line x1="161.7" y1="83.2" x2="158.2" y2="103.2" stroke="rgb(79,79,79)" stroke-width="1.0" stroke-linecap="round"/><line x1="158.2" y1="103.2" x2="183.7" y2="127.2" stroke="rgb(79,79,79)" stroke-width="1.0" stroke-linecap="round"/></g></g>
<g clip-path="url(#c6)"><g filter="url(#f6)"><g filter="url(#b6)"><rect x="167.0" y="69.2" width="31.1" height="31.2" fill="rgb(133,133,133)"/><rect x="197.6" y="69.2" width="16.1" height="31.2" fill="rgb(128,128,128)"/><rect x="213.2" y="69.2" width="16.1" height="31.2" fill="rgb(120,120,120)"/><rect x="228.8" y="69.2" width="16.1" height="31.2" fill="rgb(102,102,102)"/><rect x="244.4" y="69.2" width="31.1" height="31.2" fill="rgb(92,92,92)"/><rect x="167.0" y="99.9" width="31.1" height="16.2" fill="rgb(135,135,135)"/><rect x="197.6" y="99.9" width="16.1" height="16.2" fill="rgb(128,128,128)"/><rect x="213.2" y="99.9" width="16.1" height="16.2" fill="rgb(120,120,120)"/><rect x="228.8" y="99.9" width="16.1" height="16.2" fill="rgb(105,105,105)"/><rect x="244.4" y="99.9" width="31.1" height="16.2" fill="rgb(94,94,94)"/><rect x="167.0" y="115.6" width="31.1" height="16.2" fill="rgb(140,140,140)"/><rect x="197.6" y="115.6" width="16.1" height="16.2" fill="rgb(130,130,130)"/><rect x="213.2" y="115.6" width="16.1" height="16.2" fill="rgb(120,120,120)"/><rect x="228.8" y="115.6" width="16.1" height="16.2" fill="rgb(110,110,110)"/><rect x="244.4" y="115.6" width="31.1" height="16.2" fill="rgb(102,102,102)"/><rect x="167.0" y="131.3" width="31.1" height="16.2" fill="rgb(145,145,145)"/><rect x="197.6" y="131.3" width="16.1" height="16.2" fill="rgb(133,133,133)"/><rect x="213.2" y="131.3" width="16.1" height="16.2" fill="rgb(122,122,122)"/><rect x="228.8" y="131.3" width="16.1" height="16.2" fill="rgb(110,110,110)"/><rect x="244.4" y="131.3" width="31.1" height="16.2" fill="rgb(102,102,102)"/><rect x="167.0" y="146.9" width="31.1" height="31.2" fill="rgb(148,148,148)"/><rect x="197.6" y="146.9" width="16.1" height="31.2" fill="rgb(135,135,135)"/><rect x="213.2" y="146.9" width="16.1" height="31.2" fill="rgb(122,122,122)"/><rect x="228.8" y="146.9" width="16.1" height="31.2" fill="rgb(110,110,110)"/><rect x="244.4" y="146.9" width="31.1" height="31.2" fill="rgb(105,105,105)"/><polygon points="238.0,79.2 272.0,79.2 272.0,130.2 260.0,126.2 236.0,103.2" fill="rgb(97,97,97)"/><polygon points="177.0,120.2 186.0,124.2 218.0,168.2 177.0,168.2" fill="rgb(148,148,148)"/></g></g></g>
<rect x="260.0" y="84.2" width="78.3" height="78.3" fill="#fff"/>
<g clip-path="url(#c7)"><g filter="url(#f7)"><g filter="url(#b7)"><rect x="245.0" y="69.2" width="31.2" height="31.2" fill="rgb(122,122,122)"/><rect x="275.7" y="69.2" width="16.2" height="31.2" fill="rgb(122,122,122)"/><rect x="291.3" y="69.2" width="16.2" height="31.2" fill="rgb(120,120,120)"/><rect x="307.0" y="69.2" width="16.2" height="31.2" fill="rgb(117,117,117)"/><rect x="322.6" y="69.2" width="31.2" height="31.2" fill="rgb(115,115,115)"/><rect x="245.0" y="99.9" width="31.2" height="16.2" fill="rgb(122,122,122)"/><rect x="275.7" y="99.9" width="16.2" height="16.2" fill="rgb(122,122,122)"/><rect x="291.3" y="99.9" width="16.2" height="16.2" fill="rgb(120,120,120)"/><rect x="307.0" y="99.9" width="16.2" height="16.2" fill="rgb(115,115,115)"/><rect x="322.6" y="99.9" width="31.2" height="16.2" fill="rgb(112,112,112)"/><rect x="245.0" y="115.6" width="31.2" height="16.2" fill="rgb(122,122,122)"/><rect x="275.7" y="115.6" width="16.2" height="16.2" fill="rgb(120,120,120)"/><rect x="291.3" y="115.6" width="16.2" height="16.2" fill="rgb(117,117,117)"/><rect x="307.0" y="115.6" width="16.2" height="16.2" fill="rgb(112,112,112)"/><rect x="322.6" y="115.6" width="31.2" height="16.2" fill="rgb(110,110,110)"/><rect x="245.0" y="131.3" width="31.2" height="16.2" fill="rgb(122,122,122)"/><rect x="275.7" y="131.3" width="16.2" height="16.2" fill="rgb(120,120,120)"/><rect x="291.3" y="131.3" width="16.2" height="16.2" fill="rgb(115,115,115)"/><rect x="307.0" y="131.3" width="16.2" height="16.2" fill="rgb(112,112,112)"/><rect x="322.6" y="131.3" width="31.2" height="16.2" fill="rgb(110,110,110)"/><rect x="245.0" y="146.9" width="31.2" height="31.2" fill="rgb(122,122,122)"/><rect x="275.7" y="146.9" width="16.2" height="31.2" fill="rgb(120,120,120)"/><rect x="291.3" y="146.9" width="16.2" height="31.2" fill="rgb(115,115,115)"/><rect x="307.0" y="146.9" width="16.2" height="31.2" fill="rgb(112,112,112)"/><rect x="322.6" y="146.9" width="31.2" height="31.2" fill="rgb(110,110,110)"/><polygon points="316.0,79.2 350.0,79.2 350.0,130.2 338.0,126.2 314.0,103.2" fill="rgb(97,97,97)"/><polygon points="255.0,120.2 264.0,124.2 296.0,168.2 255.0,168.2" fill="rgb(148,148,148)"/></g></g></g>
<g clip-path="url(#c8)"><g filter="url(#f8)"><g filter="url(#b8)"><rect x="9.9" y="181.5" width="31.3" height="31.3" fill="rgb(87,87,87)"/><rect x="40.7" y="181.5" width="16.3" height="31.3" fill="rgb(87,87,87)"/><rect x="56.4" y="181.5" width="16.3" height="31.3" fill="rgb(82,82,82)"/><rect x="72.2" y="181.5" width="16.3" height="31.3" fill="rgb(74,74,74)"/><rect x="87.9" y="181.5" width="31.3" height="31.3" fill="rgb(71,71,71)"/><rect x="9.9" y="212.3" width="31.3" height="16.3" fill="rgb(89,89,89)"/><rect x="40.7" y="212.3" width="16.3" height="16.3" fill="rgb(87,87,87)"/><rect x="56.4" y="212.3" width="16.3" height="16.3" fill="rgb(82,82,82)"/><rect x="72.2" y="212.3" width="16.3" height="16.3" fill="rgb(74,74,74)"/><rect x="87.9" y="212.3" width="31.3" height="16.3" fill="rgb(71,71,71)"/><rect x="9.9" y="228.1" width="31.3" height="16.3" fill="rgb(89,89,89)"/><rect x="40.7" y="228.1" width="16.3" height="16.3" fill="rgb(87,87,87)"/><rect x="56.4" y="228.1" width="16.3" height="16.3" fill="rgb(84,84,84)"/><rect x="72.2" y="228.1" width="16.3" height="16.3" fill="rgb(79,79,79)"/><rect x="87.9" y="228.1" width="31.3" height="16.3" fill="rgb(76,76,76)"/><rect x="9.9" y="243.9" width="31.3" height="16.3" fill="rgb(89,89,89)"/><rect x="40.7" y="243.9" width="16.3" height="16.3" fill="rgb(87,87,87)"/><rect x="56.4" y="243.9" width="16.3" height="16.3" fill="rgb(84,84,84)"/><rect x="72.2" y="243.9" width="16.3" height="16.3" fill="rgb(82,82,82)"/><rect x="87.9" y="243.9" width="31.3" height="16.3" fill="rgb(79,79,79)"/><rect x="9.9" y="259.7" width="31.3" height="31.3" fill="rgb(87,87,87)"/><rect x="40.7" y="259.7" width="16.3" height="31.3" fill="rgb(84,84,84)"/><rect x="56.4" y="259.7" width="16.3" height="31.3" fill="rgb(82,82,82)"/><rect x="72.2" y="259.7" width="16.3" height="31.3" fill="rgb(82,82,82)"/><rect x="87.9" y="259.7" width="31.3" height="31.3" fill="rgb(79,79,79)"/><polygon points="80.9,191.5 114.9,191.5 114.9,242.5 102.9,238.5 78.9,215.5" fill="rgb(71,71,71)"/><polygon points="19.9,232.5 28.9,236.5 60.9,280.5 19.9,280.5" fill="rgb(92,92,92)"/></g><line x1="82.9" y1="195.5" x2="79.4" y2="215.5" stroke="rgb(61,61,61)" stroke-width="0.9" stroke-linecap="round"/><line x1="79.4" y1="215.5" x2="104.9" y2="239.5" stroke="rgb(61,61,61)" stroke-width="0.9" stroke-linecap="round"/></g></g>
<g clip-path="url(#c9)"><g filter="url(#f9)"><g filter="url(#b9)"><rect x="88.7" y="181.5" width="31.2" height="31.3" fill="rgb(115,115,115)"/><rect x="119.4" y="181.5" width="16.2" height="31.3" fill="rgb(112,112,112)"/><rect x="135.0" y="181.5" width="16.2" height="31.3" fill="rgb(107,107,107)"/><rect x="150.7" y="181.5" width="16.2" height="31.3" fill="rgb(94,94,94)"/><rect x="166.3" y="181.5" width="31.2" height="31.3" fill="rgb(87,87,87)"/><rect x="88.7" y="212.3" width="31.2" height="16.3" fill="rgb(115,115,115)"/><rect x="119.4" y="212.3" width="16.2" height="16.3" fill="rgb(112,112,112)"/><rect x="135.0" y="212.3" width="16.2" height="16.3" fill="rgb(107,107,107)"/><rect x="150.7" y="212.3" width="16.2" height="16.3" fill="rgb(94,94,94)"/><rect x="166.3" y="212.3" width="31.2" height="16.3" fill="rgb(89,89,89)"/><rect x="88.7" y="228.1" width="31.2" height="16.3" fill="rgb(115,115,115)"/><rect x="119.4" y="228.1" width="16.2" height="16.3" fill="rgb(112,112,112)"/><rect x="135.0" y="228.1" width="16.2" height="16.3" fill="rgb(107,107,107)"/><rect x="150.7" y="228.1" width="16.2" height="16.3" fill="rgb(99,99,99)"/><rect x="166.3" y="228.1" width="31.2" height="16.3" fill="rgb(94,94,94)"/><rect x="88.7" y="243.9" width="31.2" height="16.3" fill="rgb(115,115,115)"/><rect x="119.4" y="243.9" width="16.2" height="16.3" fill="rgb(112,112,112)"/><rect x="135.0" y="243.9" width="16.2" height="16.3" fill="rgb(107,107,107)"/><rect x="150.7" y="243.9" width="16.2" height="16.3" fill="rgb(102,102,102)"/><rect x="166.3" y="243.9" width="31.2" height="16.3" fill="rgb(97,97,97)"/><rect x="88.7" y="259.7" width="31.2" height="31.3" fill="rgb(112,112,112)"/><rect x="119.4" y="259.7" width="16.2" height="31.3" fill="rgb(110,110,110)"/><rect x="135.0" y="259.7" width="16.2" height="31.3" fill="rgb(105,105,105)"/><rect x="150.7" y="259.7" width="16.2" height="31.3" fill="rgb(102,102,102)"/><rect x="166.3" y="259.7" width="31.2" height="31.3" fill="rgb(99,99,99)"/><polygon points="159.7,191.5 193.7,191.5 193.7,242.5 181.7,238.5 157.7,215.5" fill="rgb(87,87,87)"/><polygon points="98.7,232.5 107.7,236.5 139.7,280.5 98.7,280.5" fill="rgb(112,112,112)"/></g><line x1="161.7" y1="195.5" x2="158.2" y2="215.5" stroke="rgb(76,76,76)" stroke-width="1.0" stroke-linecap="round"/><line x1="158.2" y1="215.5" x2="183.7" y2="239.5" stroke="rgb(76,76,76)" stroke-width="1.0" stroke-linecap="round"/></g></g>
<g clip-path="url(#c10)"><g filter="url(#f10)"><g filter="url(#b10)"><rect x="167.0" y="181.5" width="31.1" height="31.3" fill="rgb(112,112,112)"/><rect x="197.6" y="181.5" width="16.1" height="31.3" fill="rgb(110,110,110)"/><rect x="213.2" y="181.5" width="16.1" height="31.3" fill="rgb(105,105,105)"/><rect x="228.8" y="181.5" width="16.1" height="31.3" fill="rgb(92,92,92)"/><rect x="244.4" y="181.5" width="31.1" height="31.3" fill="rgb(84,84,84)"/><rect x="167.0" y="212.3" width="31.1" height="16.3" fill="rgb(112,112,112)"/><rect x="197.6" y="212.3" width="16.1" height="16.3" fill="rgb(110,110,110)"/><rect x="213.2" y="212.3" width="16.1" height="16.3" fill="rgb(105,105,105)"/><rect x="228.8" y="212.3" width="16.1" height="16.3" fill="rgb(92,92,92)"/><rect x="244.4" y="212.3" width="31.1" height="16.3" fill="rgb(87,87,87)"/><rect x="167.0" y="228.1" width="31.1" height="16.3" fill="rgb(112,112,112)"/><rect x="197.6" y="228.1" width="16.1" height="16.3" fill="rgb(110,110,110)"/><rect x="213.2" y="228.1" width="16.1" height="16.3" fill="rgb(105,105,105)"/><rect x="228.8" y="228.1" width="16.1" height="16.3" fill="rgb(97,97,97)"/><rect x="244.4" y="228.1" width="31.1" height="16.3" fill="rgb(92,92,92)"/><rect x="167.0" y="243.9" width="31.1" height="16.3" fill="rgb(112,112,112)"/><rect x="197.6" y="243.9" width="16.1" height="16.3" fill="rgb(110,110,110)"/><rect x="213.2" y="243.9" width="16.1" height="16.3" fill="rgb(105,105,105)"/><rect x="228.8" y="243.9" width="16.1" height="16.3" fill="rgb(99,99,99)"/><rect x="244.4" y="243.9" width="31.1" height="16.3" fill="rgb(94,94,94)"/><rect x="167.0" y="259.7" width="31.1" height="31.3" fill="rgb(110,110,110)"/><rect x="197.6" y="259.7" width="16.1" height="31.3" fill="rgb(107,107,107)"/><rect x="213.2" y="259.7" width="16.1" height="31.3" fill="rgb(102,102,102)"/><rect x="228.8" y="259.7" width="16.1" height="31.3" fill="rgb(99,99,99)"/><rect x="244.4" y="259.7" width="31.1" height="31.3" fill="rgb(97,97,97)"/><polygon points="238.0,191.5 272.0,191.5 272.0,242.5 260.0,238.5 236.0,215.5" fill="rgb(87,87,87)"/><polygon points="177.0,232.5 186.0,236.5 218.0,280.5 177.0,280.5" fill="rgb(112,112,112)"/></g><line x1="240.0" y1="195.5" x2="236.5" y2="215.5" stroke="rgb(76,76,76)" stroke-width="1.0" stroke-linecap="round"/><line x1="236.5" y1="215.5" x2="262.0" y2="239.5" stroke="rgb(76,76,76)" stroke-width="1.0" stroke-linecap="round"/></g></g>
<g clip-path="url(#c11)"><g filter="url(#f11)"><g filter="url(#b11)"><rect x="245.0" y="181.5" width="31.2" height="31.3" fill="rgb(92,92,92)"/><rect x="275.7" y="181.5" width="16.2" height="31.3" fill="rgb(92,92,92)"/><rect x="291.3" y="181.5" width="16.2" height="31.3" fill="rgb(87,87,87)"/><rect x="307.0" y="181.5" width="16.2" height="31.3" fill="rgb(79,79,79)"/><rect x="322.6" y="181.5" width="31.2" height="31.3" fill="rgb(77,77,77)"/><rect x="245.0" y="212.3" width="31.2" height="16.3" fill="rgb(94,94,94)"/><rect x="275.7" y="212.3" width="16.2" height="16.3" fill="rgb(92,92,92)"/><rect x="291.3" y="212.3" width="16.2" height="16.3" fill="rgb(87,87,87)"/><rect x="307.0" y="212.3" width="16.2" height="16.3" fill="rgb(79,79,79)"/><rect x="322.6" y="212.3" width="31.2" height="16.3" fill="rgb(77,77,77)"/><rect x="245.0" y="228.1" width="31.2" height="16.3" fill="rgb(94,94,94)"/><rect x="275.7" y="228.1" width="16.2" height="16.3" fill="rgb(92,92,92)"/><rect x="291.3" y="228.1" width="16.2" height="16.3" fill="rgb(89,89,89)"/><rect x="307.0" y="228.1" width="16.2" height="16.3" fill="rgb(84,84,84)"/><rect x="322.6" y="228.1" width="31.2" height="16.3" fill="rgb(82,82,82)"/><rect x="245.0" y="243.9" width="31.2" height="16.3" fill="rgb(94,94,94)"/><rect x="275.7" y="243.9" width="16.2" height="16.3" fill="rgb(92,92,92)"/><rect x="291.3" y="243.9" width="16.2" height="16.3" fill="rgb(89,89,89)"/><rect x="307.0" y="243.9" width="16.2" height="16.3" fill="rgb(87,87,87)"/><rect x="322.6" y="243.9" width="31.2" height="16.3" fill="rgb(84,84,84)"/><rect x="245.0" y="259.7" width="31.2" height="31.3" fill="rgb(92,92,92)"/><rect x="275.7" y="259.7" width="16.2" height="31.3" fill="rgb(89,89,89)"/><rect x="291.3" y="259.7" width="16.2" height="31.3" fill="rgb(87,87,87)"/><rect x="307.0" y="259.7" width="16.2" height="31.3" fill="rgb(87,87,87)"/><rect x="322.6" y="259.7" width="31.2" height="31.3" fill="rgb(84,84,84)"/><polygon points="316.0,191.5 350.0,191.5 350.0,242.5 338.0,238.5 314.0,215.5" fill="rgb(71,71,71)"/><polygon points="255.0,232.5 264.0,236.5 296.0,280.5 255.0,280.5" fill="rgb(92,92,92)"/></g><line x1="318.0" y1="195.5" x2="314.5" y2="215.5" stroke="rgb(61,61,61)" stroke-width="0.9" stroke-linecap="round"/><line x1="314.5" y1="215.5" x2="340.0" y2="239.5" stroke="rgb(61,61,61)" stroke-width="0.9" stroke-linecap="round"/></g></g>
<g clip-path="url(#c12)"><g filter="url(#f12)"><g filter="url(#b12)"><rect x="9.9" y="260.5" width="31.3" height="31.2" fill="rgb(87,87,87)"/><rect x="40.7" y="260.5" width="16.3" height="31.2" fill="rgb(87,87,87)"/><rect x="56.4" y="260.5" width="16.3" height="31.2" fill="rgb(82,82,82)"/><rect x="72.2" y="260.5" width="16.3" height="31.2" fill="rgb(74,74,74)"/><rect x="87.9" y="260.5" width="31.3" height="31.2" fill="rgb(71,71,71)"/><rect x="9.9" y="291.2" width="31.3" height="16.2" fill="rgb(89,89,89)"/><rect x="40.7" y="291.2" width="16.3" height="16.2" fill="rgb(87,87,87)"/><rect x="56.4" y="291.2" width="16.3" height="16.2" fill="rgb(82,82,82)"/><rect x="72.2" y="291.2" width="16.3" height="16.2" fill="rgb(74,74,74)"/><rect x="87.9" y="291.2" width="31.3" height="16.2" fill="rgb(71,71,71)"/><rect x="9.9" y="306.9" width="31.3" height="16.2" fill="rgb(89,89,89)"/><rect x="40.7" y="306.9" width="16.3" height="16.2" fill="rgb(87,87,87)"/><rect x="56.4" y="306.9" width="16.3" height="16.2" fill="rgb(84,84,84)"/><rect x="72.2" y="306.9" width="16.3" height="16.2" fill="rgb(79,79,79)"/><rect x="87.9" y="306.9" width="31.3" height="16.2" fill="rgb(76,76,76)"/><rect x="9.9" y="322.5" width="31.3" height="16.2" fill="rgb(89,89,89)"/><rect x="40.7" y="322.5" width="16.3" height="16.2" fill="rgb(87,87,87)"/><rect x="56.4" y="322.5" width="16.3" height="16.2" fill="rgb(84,84,84)"/><rect x="72.2" y="322.5" width="16.3" height="16.2" fill="rgb(82,82,82)"/><rect x="87.9" y="322.5" width="31.3" height="16.2" fill="rgb(79,79,79)"/><rect x="9.9" y="338.2" width="31.3" height="31.2" fill="rgb(87,87,87)"/><rect x="40.7" y="338.2" width="16.3" height="31.2" fill="rgb(84,84,84)"/><rect x="56.4" y="338.2" width="16.3" height="31.2" fill="rgb(82,82,82)"/><rect x="72.2" y="338.2" width="16.3" height="31.2" fill="rgb(82,82,82)"/><rect x="87.9" y="338.2" width="31.3" height="31.2" fill="rgb(79,79,79)"/><polygon points="80.9,270.5 114.9,270.5 114.9,321.5 102.9,317.5 78.9,294.5" fill="rgb(71,71,71)"/><polygon points="19.9,311.5 28.9,315.5 60.9,359.5 19.9,359.5" fill="rgb(92,92,92)"/></g><line x1="82.9" y1="274.5" x2="79.4" y2="294.5" stroke="rgb(61,61,61)" stroke-width="0.9" stroke-linecap="round"/><line x1="79.4" y1="294.5" x2="104.9" y2="318.5" stroke="rgb(61,61,61)" stroke-width="0.9" stroke-linecap="round"/></g></g>
<g clip-path="url(#c13)"><g filter="url(#f13)"><g filter="url(#b13)"><rect x="88.7" y="260.5" width="31.2" height="31.2" fill="rgb(115,115,115)"/><rect x="119.4" y="260.5" width="16.2" height="31.2" fill="rgb(112,112,112)"/><rect x="135.0" y="260.5" width="16.2" height="31.2" fill="rgb(107,107,107)"/><rect x="150.7" y="260.5" width="16.2" height="31.2" fill="rgb(94,94,94)"/><rect x="166.3" y="260.5" width="31.2" height="31.2" fill="rgb(87,87,87)"/><rect x="88.7" y="291.2" width="31.2" height="16.2" fill="rgb(115,115,115)"/><rect x="119.4" y="291.2" width="16.2" height="16.2" fill="rgb(112,112,112)"/><rect x="135.0" y="291.2" width="16.2" height="16.2" fill="rgb(107,107,107)"/><rect x="150.7" y="291.2" width="16.2" height="16.2" fill="rgb(94,94,94)"/><rect x="166.3" y="291.2" width="31.2" height="16.2" fill="rgb(89,89,89)"/><rect x="88.7" y="306.9" width="31.2" height="16.2" fill="rgb(115,115,115)"/><rect x="119.4" y="306.9" width="16.2" height="16.2" fill="rgb(112,112,112)"/><rect x="135.0" y="306.9" width="16.2" height="16.2" fill="rgb(107,107,107)"/><rect x="150.7" y="306.9" width="16.2" height="16.2" fill="rgb(99,99,99)"/><rect x="166.3" y="306.9" width="31.2" height="16.2" fill="rgb(94,94,94)"/><rect x="88.7" y="322.5" width="31.2" height="16.2" fill="rgb(115,115,115)"/><rect x="119.4" y="322.5" width="16.2" height="16.2" fill="rgb(112,112,112)"/><rect x="135.0" y="322.5" width="16.2" height="16.2" fill="rgb(107,107,107)"/><rect x="150.7" y="322.5" width="16.2" height="16.2" fill="rgb(102,102,102)"/><rect x="166.3" y="322.5" width="31.2" height="16.2" fill="rgb(97,97,97)"/><rect x="88.7" y="338.2" width="31.2" height="31.2" fill="rgb(112,112,112)"/><rect x="119.4" y="338.2" width="16.2" height="31.2" fill="rgb(110,110,110)"/><rect x="135.0" y="338.2" width="16.2" height="31.2" fill="rgb(105,105,105)"/><rect x="150.7" y="338.2" width="16.2" height="31.2" fill="rgb(102,102,102)"/><rect x="166.3" y="338.2" width="31.2" height="31.2" fill="rgb(99,99,99)"/><polygon points="159.7,270.5 193.7,270.5 193.7,321.5 181.7,317.5 157.7,294.5" fill="rgb(87,87,87)"/><polygon points="98.7,311.5 107.7,315.5 139.7,359.5 98.7,359.5" fill="rgb(112,112,112)"/></g><line x1="161.7" y1="274.5" x2="158.2" y2="294.5" stroke="rgb(76,76,76)" stroke-width="1.0" stroke-linecap="round"/><line x1="158.2" y1="294.5" x2="183.7" y2="318.5" stroke="rgb(76,76,76)" stroke-width="1.0" stroke-linecap="round"/></g></g>
<g clip-path="url(#c14)"><g filter="url(#f14)"><g filter="url(#b14)"><rect x="167.0" y="260.5" width="31.1" height="31.2" fill="rgb(110,110,110)"/><rect x="197.6" y="260.5" width="16.1" height="31.2" fill="rgb(107,107,107)"/><rect x="213.2" y="260.5" width="16.1" height="31.2" fill="rgb(105,105,105)"/><rect x="228.8" y="260.5" width="16.1" height="31.2" fill="rgb(102,102,102)"/><rect x="244.4" y="260.5" width="31.1" height="31.2" fill="rgb(102,102,102)"/><rect x="167.0" y="291.2" width="31.1" height="16.2" fill="rgb(110,110,110)"/><rect x="197.6" y="291.2" width="16.1" height="16.2" fill="rgb(107,107,107)"/><rect x="213.2" y="291.2" width="16.1" height="16.2" fill="rgb(105,105,105)"/><rect x="228.8" y="291.2" width="16.1" height="16.2" fill="rgb(102,102,102)"/><rect x="244.4" y="291.2" width="31.1" height="16.2" fill="rgb(102,102,102)"/><rect x="167.0" y="306.9" width="31.1" height="16.2" fill="rgb(110,110,110)"/><rect x="197.6" y="306.9" width="16.1" height="16.2" fill="rgb(107,107,107)"/><rect x="213.2" y="306.9" width="16.1" height="16.2" fill="rgb(105,105,105)"/><rect x="228.8" y="306.9" width="16.1" height="16.2" fill="rgb(105,105,105)"/><rect x="244.4" y="306.9" width="31.1" height="16.2" fill="rgb(102,102,102)"/><rect x="167.0" y="322.5" width="31.1" height="16.2" fill="rgb(110,110,110)"/><rect x="197.6" y="322.5" width="16.1" height="16.2" fill="rgb(107,107,107)"/><rect x="213.2" y="322.5" width="16.1" height="16.2" fill="rgb(107,107,107)"/><rect x="228.8" y="322.5" width="16.1" height="16.2" fill="rgb(105,105,105)"/><rect x="244.4" y="322.5" width="31.1" height="16.2" fill="rgb(105,105,105)"/><rect x="167.0" y="338.2" width="31.1" height="31.2" fill="rgb(110,110,110)"/><rect x="197.6" y="338.2" width="16.1" height="31.2" fill="rgb(107,107,107)"/><rect x="213.2" y="338.2" width="16.1" height="31.2" fill="rgb(107,107,107)"/><rect x="228.8" y="338.2" width="16.1" height="31.2" fill="rgb(105,105,105)"/><rect x="244.4" y="338.2" width="31.1" height="31.2" fill="rgb(105,105,105)"/></g></g></g>
<rect x="260.0" y="275.5" width="78.3" height="78.4" fill="#fff"/>
<g clip-path="url(#c15)"><g filter="url(#f15)"><g filter="url(#b15)"><rect x="245.0" y="260.5" width="31.2" height="31.2" fill="rgb(110,110,110)"/><rect x="275.7" y="260.5" width="16.2" height="31.2" fill="rgb(110,110,110)"/><rect x="291.3" y="260.5" width="16.2" height="31.2" fill="rgb(107,107,107)"/><rect x="307.0" y="260.5" width="16.2" height="31.2" fill="rgb(105,105,105)"/><rect x="322.6" y="260.5" width="31.2" height="31.2" fill="rgb(105,105,105)"/><rect x="245.0" y="291.2" width="31.2" height="16.2" fill="rgb(110,110,110)"/><rect x="275.7" y="291.2" width="16.2" height="16.2" fill="rgb(110,110,110)"/><rect x="291.3" y="291.2" width="16.2" height="16.2" fill="rgb(107,107,107)"/><rect x="307.0" y="291.2" width="16.2" height="16.2" fill="rgb(105,105,105)"/><rect x="322.6" y="291.2" width="31.2" height="16.2" fill="rgb(102,102,102)"/><rect x="245.0" y="306.9" width="31.2" height="16.2" fill="rgb(110,110,110)"/><rect x="275.7" y="306.9" width="16.2" height="16.2" fill="rgb(107,107,107)"/><rect x="291.3" y="306.9" width="16.2" height="16.2" fill="rgb(105,105,105)"/><rect x="307.0" y="306.9" width="16.2" height="16.2" fill="rgb(102,102,102)"/><rect x="322.6" y="306.9" width="31.2" height="16.2" fill="rgb(102,102,102)"/><rect x="245.0" y="322.5" width="31.2" height="16.2" fill="rgb(107,107,107)"/><rect x="275.7" y="322.5" width="16.2" height="16.2" fill="rgb(105,105,105)"/><rect x="291.3" y="322.5" width="16.2" height="16.2" fill="rgb(102,102,102)"/><rect x="307.0" y="322.5" width="16.2" height="16.2" fill="rgb(102,102,102)"/><rect x="322.6" y="322.5" width="31.2" height="16.2" fill="rgb(102,102,102)"/><rect x="245.0" y="338.2" width="31.2" height="31.2" fill="rgb(107,107,107)"/><rect x="275.7" y="338.2" width="16.2" height="31.2" fill="rgb(105,105,105)"/><rect x="291.3" y="338.2" width="16.2" height="31.2" fill="rgb(102,102,102)"/><rect x="307.0" y="338.2" width="16.2" height="31.2" fill="rgb(102,102,102)"/><rect x="322.6" y="338.2" width="31.2" height="31.2" fill="rgb(102,102,102)"/></g></g></g>
<g clip-path="url(#c16)"><g filter="url(#f16)"><g filter="url(#b16)"><rect x="9.9" y="371.5" width="31.3" height="31.2" fill="rgb(59,59,59)"/><rect x="40.7" y="371.5" width="16.3" height="31.2" fill="rgb(48,48,48)"/><rect x="56.4" y="371.5" width="16.3" height="31.2" fill="rgb(59,59,59)"/><rect x="72.2" y="371.5" width="16.3" height="31.2" fill="rgb(69,69,69)"/><rect x="87.9" y="371.5" width="31.3" height="31.2" fill="rgb(48,48,48)"/><rect x="9.9" y="402.2" width="31.3" height="16.2" fill="rgb(64,64,64)"/><rect x="40.7" y="402.2" width="16.3" height="16.2" fill="rgb(59,59,59)"/><rect x="56.4" y="402.2" width="16.3" height="16.2" fill="rgb(64,64,64)"/><rect x="72.2" y="402.2" width="16.3" height="16.2" fill="rgb(69,69,69)"/><rect x="87.9" y="402.2" width="31.3" height="16.2" fill="rgb(54,54,54)"/><rect x="9.9" y="418.0" width="31.3" height="16.2" fill="rgb(64,64,64)"/><rect x="40.7" y="418.0" width="16.3" height="16.2" fill="rgb(64,64,64)"/><rect x="56.4" y="418.0" width="16.3" height="16.2" fill="rgb(64,64,64)"/><rect x="72.2" y="418.0" width="16.3" height="16.2" fill="rgb(59,59,59)"/><rect x="87.9" y="418.0" width="31.3" height="16.2" fill="rgb(48,48,48)"/><rect x="9.9" y="433.7" width="31.3" height="16.2" fill="rgb(59,59,59)"/><rect x="40.7" y="433.7" width="16.3" height="16.2" fill="rgb(64,64,64)"/><rect x="56.4" y="433.7" width="16.3" height="16.2" fill="rgb(61,61,61)"/><rect x="72.2" y="433.7" width="16.3" height="16.2" fill="rgb(54,54,54)"/><rect x="87.9" y="433.7" width="31.3" height="16.2" fill="rgb(48,48,48)"/><rect x="9.9" y="449.5" width="31.3" height="31.2" fill="rgb(59,59,59)"/><rect x="40.7" y="449.5" width="16.3" height="31.2" fill="rgb(59,59,59)"/><rect x="56.4" y="449.5" width="16.3" height="31.2" fill="rgb(54,54,54)"/><rect x="72.2" y="449.5" width="16.3" height="31.2" fill="rgb(48,48,48)"/><rect x="87.9" y="449.5" width="31.3" height="31.2" fill="rgb(46,46,46)"/><polygon points="75.1,386.5 107.9,386.5 90.9,416.5 58.9,416.5" fill="rgb(97,97,97)"/><polygon points="58.9,416.5 90.9,416.5 76.8,441.5 45.4,441.5" fill="rgb(71,71,71)"/><polygon points="42.9,381.5 66.1,381.5 61.8,394.5 38.9,394.5" fill="rgb(31,31,31)"/><polygon points="19.9,416.5 29.9,416.5 24.9,431.5 19.9,431.5" fill="rgb(87,87,87)"/></g><polygon points="110.0,384.5 114.9,384.5 114.9,476.5 58.1,476.5" fill="rgb(38,38,38)"/><polygon points="22.9,384.5 41.9,384.5 37.9,395.5 31.9,408.5 27.9,417.5 22.9,419.5" fill="rgb(219,219,219)"/><line x1="67.6" y1="385.5" x2="23.4" y2="467.5" stroke="rgb(107,107,107)" stroke-width="3.5" stroke-linecap="round"/><line x1="108.5" y1="385.5" x2="62.1" y2="467.5" stroke="rgb(107,107,107)" stroke-width="3.5" stroke-linecap="round"/></g><polygon points="22.9,384.5 41.9,384.5 37.9,395.5 31.9,408.5 27.9,417.5 22.9,419.5" fill="#c8ee2a" opacity="0.85" filter="url(#sb)"/><line x1="28.9" y1="385.5" x2="12.5" y2="415.5" stroke="#6a9c48" stroke-width="1" opacity="0.6" filter="url(#sb)"/><line x1="33.9" y1="385.5" x2="17.5" y2="415.5" stroke="#6a9c48" stroke-width="1" opacity="0.6" filter="url(#sb)"/><line x1="38.9" y1="385.5" x2="22.5" y2="415.5" stroke="#6a9c48" stroke-width="1" opacity="0.6" filter="url(#sb)"/><line x1="43.7" y1="385.5" x2="23.9" y2="423.5" stroke="#84f02c" stroke-width="2" opacity="0.95" filter="url(#sb)"/><line x1="68.2" y1="384.5" x2="22.8" y2="468.5" stroke="#84f02c" stroke-width="1.9" opacity="0.95" filter="url(#sb)"/><line x1="109.0" y1="384.5" x2="61.6" y2="468.5" stroke="#84f02c" stroke-width="1.9" opacity="0.95" filter="url(#sb)"/></g>
<g clip-path="url(#c17)"><g filter="url(#f17)"><g filter="url(#b17)"><rect x="88.7" y="371.5" width="31.2" height="31.2" fill="rgb(69,69,69)"/><rect x="119.4" y="371.5" width="16.2" height="31.2" fill="rgb(59,59,59)"/><rect x="135.0" y="371.5" width="16.2" height="31.2" fill="rgb(69,69,69)"/><rect x="150.7" y="371.5" width="16.2" height="31.2" fill="rgb(79,79,79)"/><rect x="166.3" y="371.5" width="31.2" height="31.2" fill="rgb(59,59,59)"/><rect x="88.7" y="402.2" width="31.2" height="16.2" fill="rgb(74,74,74)"/><rect x="119.4" y="402.2" width="16.2" height="16.2" fill="rgb(69,69,69)"/><rect x="135.0" y="402.2" width="16.2" height="16.2" fill="rgb(74,74,74)"/><rect x="150.7" y="402.2" width="16.2" height="16.2" fill="rgb(79,79,79)"/><rect x="166.3" y="402.2" width="31.2" height="16.2" fill="rgb(64,64,64)"/><rect x="88.7" y="418.0" width="31.2" height="16.2" fill="rgb(74,74,74)"/><rect x="119.4" y="418.0" width="16.2" height="16.2" fill="rgb(74,74,74)"/><rect x="135.0" y="418.0" width="16.2" height="16.2" fill="rgb(74,74,74)"/><rect x="150.7" y="418.0" width="16.2" height="16.2" fill="rgb(69,69,69)"/><rect x="166.3" y="418.0" width="31.2" height="16.2" fill="rgb(59,59,59)"/><rect x="88.7" y="433.7" width="31.2" height="16.2" fill="rgb(69,69,69)"/><rect x="119.4" y="433.7" width="16.2" height="16.2" fill="rgb(74,74,74)"/><rect x="135.0" y="433.7" width="16.2" height="16.2" fill="rgb(71,71,71)"/><rect x="150.7" y="433.7" width="16.2" height="16.2" fill="rgb(64,64,64)"/><rect x="166.3" y="433.7" width="31.2" height="16.2" fill="rgb(59,59,59)"/><rect x="88.7" y="449.5" width="31.2" height="31.2" fill="rgb(69,69,69)"/><rect x="119.4" y="449.5" width="16.2" height="31.2" fill="rgb(69,69,69)"/><rect x="135.0" y="449.5" width="16.2" height="31.2" fill="rgb(64,64,64)"/><rect x="150.7" y="449.5" width="16.2" height="31.2" fill="rgb(59,59,59)"/><rect x="166.3" y="449.5" width="31.2" height="31.2" fill="rgb(56,56,56)"/><polygon points="153.9,386.5 186.7,386.5 169.8,416.5 137.7,416.5" fill="rgb(115,115,115)"/><polygon points="137.7,416.5 169.8,416.5 155.6,441.5 124.2,441.5" fill="rgb(92,92,92)"/><polygon points="121.7,381.5 144.9,381.5 140.6,394.5 117.7,394.5" fill="rgb(43,43,43)"/><polygon points="98.7,416.5 108.7,416.5 103.7,431.5 98.7,431.5" fill="rgb(128,128,128)"/></g><polygon points="188.8,384.5 193.7,384.5 193.7,476.5 136.9,476.5" fill="rgb(54,54,54)"/><polygon points="101.7,384.5 120.7,384.5 116.7,395.5 110.7,408.5 106.7,417.5 101.7,419.5" fill="rgb(224,224,224)"/><line x1="146.4" y1="385.5" x2="102.2" y2="467.5" stroke="rgb(128,128,128)" stroke-width="5.0" stroke-linecap="round"/><line x1="187.3" y1="385.5" x2="140.9" y2="467.5" stroke="rgb(128,128,128)" stroke-width="5.0" stroke-linecap="round"/></g><polygon points="101.7,384.5 120.7,384.5 116.7,395.5 110.7,408.5 106.7,417.5 101.7,419.5" fill="#e0e820" opacity="0.9" filter="url(#sb)"/><line x1="122.5" y1="385.5" x2="102.7" y2="423.5" stroke="#78f028" stroke-width="2" opacity="0.9" filter="url(#sb)"/><line x1="147.0" y1="384.5" x2="101.6" y2="468.5" stroke="#78f028" stroke-width="2.1" opacity="0.9" filter="url(#sb)"/><line x1="187.8" y1="384.5" x2="140.4" y2="468.5" stroke="#78f028" stroke-width="2.1" opacity="0.9" filter="url(#sb)"/></g>
<g clip-path="url(#c18)"><g filter="url(#f18)"><g filter="url(#b18)"><rect x="167.0" y="371.5" width="31.1" height="31.2" fill="rgb(66,66,66)"/><rect x="197.6" y="371.5" width="16.1" height="31.2" fill="rgb(56,56,56)"/><rect x="213.2" y="371.5" width="16.1" height="31.2" fill="rgb(66,66,66)"/><rect x="228.8" y="371.5" width="16.1" height="31.2" fill="rgb(76,76,76)"/><rect x="244.4" y="371.5" width="31.1" height="31.2" fill="rgb(56,56,56)"/><rect x="167.0" y="402.2" width="31.1" height="16.2" fill="rgb(71,71,71)"/><rect x="197.6" y="402.2" width="16.1" height="16.2" fill="rgb(66,66,66)"/><rect x="213.2" y="402.2" width="16.1" height="16.2" fill="rgb(71,71,71)"/><rect x="228.8" y="402.2" width="16.1" height="16.2" fill="rgb(76,76,76)"/><rect x="244.4" y="402.2" width="31.1" height="16.2" fill="rgb(61,61,61)"/><rect x="167.0" y="418.0" width="31.1" height="16.2" fill="rgb(71,71,71)"/><rect x="197.6" y="418.0" width="16.1" height="16.2" fill="rgb(71,71,71)"/><rect x="213.2" y="418.0" width="16.1" height="16.2" fill="rgb(71,71,71)"/><rect x="228.8" y="418.0" width="16.1" height="16.2" fill="rgb(66,66,66)"/><rect x="244.4" y="418.0" width="31.1" height="16.2" fill="rgb(56,56,56)"/><rect x="167.0" y="433.7" width="31.1" height="16.2" fill="rgb(66,66,66)"/><rect x="197.6" y="433.7" width="16.1" height="16.2" fill="rgb(71,71,71)"/><rect x="213.2" y="433.7" width="16.1" height="16.2" fill="rgb(69,69,69)"/><rect x="228.8" y="433.7" width="16.1" height="16.2" fill="rgb(61,61,61)"/><rect x="244.4" y="433.7" width="31.1" height="16.2" fill="rgb(56,56,56)"/><rect x="167.0" y="449.5" width="31.1" height="31.2" fill="rgb(66,66,66)"/><rect x="197.6" y="449.5" width="16.1" height="31.2" fill="rgb(66,66,66)"/><rect x="213.2" y="449.5" width="16.1" height="31.2" fill="rgb(61,61,61)"/><rect x="228.8" y="449.5" width="16.1" height="31.2" fill="rgb(56,56,56)"/><rect x="244.4" y="449.5" width="31.1" height="31.2" fill="rgb(54,54,54)"/><polygon points="232.2,386.5 265.0,386.5 248.1,416.5 216.0,416.5" fill="rgb(115,115,115)"/><polygon points="216.0,416.5 248.1,416.5 233.9,441.5 202.5,441.5" fill="rgb(92,92,92)"/><polygon points="200.0,381.5 223.2,381.5 218.9,394.5 196.0,394.5" fill="rgb(43,43,43)"/><polygon points="177.0,416.5 187.0,416.5 182.0,431.5 177.0,431.5" fill="rgb(128,128,128)"/></g><polygon points="267.1,384.5 272.0,384.5 272.0,476.5 215.2,476.5" fill="rgb(54,54,54)"/><polygon points="180.0,384.5 199.0,384.5 195.0,395.5 189.0,408.5 185.0,417.5 180.0,419.5" fill="rgb(224,224,224)"/><line x1="224.7" y1="385.5" x2="180.5" y2="467.5" stroke="rgb(128,128,128)" stroke-width="5.0" stroke-linecap="round"/><line x1="265.6" y1="385.5" x2="219.2" y2="467.5" stroke="rgb(128,128,128)" stroke-width="5.0" stroke-linecap="round"/></g><polygon points="180.0,384.5 199.0,384.5 195.0,395.5 189.0,408.5 185.0,417.5 180.0,419.5" fill="#e0e820" opacity="0.9" filter="url(#sb)"/><line x1="200.8" y1="385.5" x2="181.0" y2="423.5" stroke="#78f028" stroke-width="2" opacity="0.9" filter="url(#sb)"/><line x1="225.3" y1="384.5" x2="179.9" y2="468.5" stroke="#78f028" stroke-width="2.1" opacity="0.9" filter="url(#sb)"/><line x1="266.1" y1="384.5" x2="218.7" y2="468.5" stroke="#78f028" stroke-width="2.1" opacity="0.9" filter="url(#sb)"/></g>
<g clip-path="url(#c19)"><g filter="url(#f19)"><g filter="url(#b19)"><rect x="245.0" y="371.5" width="31.2" height="31.2" fill="rgb(61,61,61)"/><rect x="275.7" y="371.5" width="16.2" height="31.2" fill="rgb(51,51,51)"/><rect x="291.3" y="371.5" width="16.2" height="31.2" fill="rgb(61,61,61)"/><rect x="307.0" y="371.5" width="16.2" height="31.2" fill="rgb(71,71,71)"/><rect x="322.6" y="371.5" width="31.2" height="31.2" fill="rgb(51,51,51)"/><rect x="245.0" y="402.2" width="31.2" height="16.2" fill="rgb(66,66,66)"/><rect x="275.7" y="402.2" width="16.2" height="16.2" fill="rgb(61,61,61)"/><rect x="291.3" y="402.2" width="16.2" height="16.2" fill="rgb(66,66,66)"/><rect x="307.0" y="402.2" width="16.2" height="16.2" fill="rgb(71,71,71)"/><rect x="322.6" y="402.2" width="31.2" height="16.2" fill="rgb(56,56,56)"/><rect x="245.0" y="418.0" width="31.2" height="16.2" fill="rgb(66,66,66)"/><rect x="275.7" y="418.0" width="16.2" height="16.2" fill="rgb(66,66,66)"/><rect x="291.3" y="418.0" width="16.2" height="16.2" fill="rgb(66,66,66)"/><rect x="307.0" y="418.0" width="16.2" height="16.2" fill="rgb(61,61,61)"/><rect x="322.6" y="418.0" width="31.2" height="16.2" fill="rgb(51,51,51)"/><rect x="245.0" y="433.7" width="31.2" height="16.2" fill="rgb(61,61,61)"/><rect x="275.7" y="433.7" width="16.2" height="16.2" fill="rgb(66,66,66)"/><rect x="291.3" y="433.7" width="16.2" height="16.2" fill="rgb(64,64,64)"/><rect x="307.0" y="433.7" width="16.2" height="16.2" fill="rgb(56,56,56)"/><rect x="322.6" y="433.7" width="31.2" height="16.2" fill="rgb(51,51,51)"/><rect x="245.0" y="449.5" width="31.2" height="31.2" fill="rgb(61,61,61)"/><rect x="275.7" y="449.5" width="16.2" height="31.2" fill="rgb(61,61,61)"/><rect x="291.3" y="449.5" width="16.2" height="31.2" fill="rgb(56,56,56)"/><rect x="307.0" y="449.5" width="16.2" height="31.2" fill="rgb(51,51,51)"/><rect x="322.6" y="449.5" width="31.2" height="31.2" fill="rgb(48,48,48)"/><polygon points="310.2,386.5 343.0,386.5 326.1,416.5 294.0,416.5" fill="rgb(97,97,97)"/><polygon points="294.0,416.5 326.1,416.5 311.9,441.5 280.5,441.5" fill="rgb(71,71,71)"/><polygon points="278.0,381.5 301.2,381.5 296.9,394.5 274.0,394.5" fill="rgb(31,31,31)"/><polygon points="255.0,416.5 265.0,416.5 260.0,431.5 255.0,431.5" fill="rgb(87,87,87)"/></g><polygon points="345.1,384.5 350.0,384.5 350.0,476.5 293.1,476.5" fill="rgb(38,38,38)"/><polygon points="258.0,384.5 277.0,384.5 273.0,395.5 267.0,408.5 263.0,417.5 258.0,419.5" fill="rgb(219,219,219)"/><line x1="302.7" y1="385.5" x2="258.5" y2="467.5" stroke="rgb(107,107,107)" stroke-width="3.5" stroke-linecap="round"/><line x1="343.6" y1="385.5" x2="297.2" y2="467.5" stroke="rgb(107,107,107)" stroke-width="3.5" stroke-linecap="round"/></g><polygon points="258.0,384.5 277.0,384.5 273.0,395.5 267.0,408.5 263.0,417.5 258.0,419.5" fill="#c8ee2a" opacity="0.85" filter="url(#sb)"/><line x1="264.0" y1="385.5" x2="247.7" y2="415.5" stroke="#6a9c48" stroke-width="1" opacity="0.6" filter="url(#sb)"/><line x1="269.0" y1="385.5" x2="252.7" y2="415.5" stroke="#6a9c48" stroke-width="1" opacity="0.6" filter="url(#sb)"/><line x1="274.0" y1="385.5" x2="257.6" y2="415.5" stroke="#6a9c48" stroke-width="1" opacity="0.6" filter="url(#sb)"/><line x1="278.8" y1="385.5" x2="259.0" y2="423.5" stroke="#84f02c" stroke-width="2" opacity="0.95" filter="url(#sb)"/><line x1="303.3" y1="384.5" x2="257.9" y2="468.5" stroke="#84f02c" stroke-width="1.9" opacity="0.95" filter="url(#sb)"/><line x1="344.1" y1="384.5" x2="296.7" y2="468.5" stroke="#84f02c" stroke-width="1.9" opacity="0.95" filter="url(#sb)"/></g>
<g clip-path="url(#c20)"><g filter="url(#f20)"><g filter="url(#b20)"><rect x="9.9" y="450.2" width="31.3" height="31.2" fill="rgb(59,59,59)"/><rect x="40.7" y="450.2" width="16.3" height="31.2" fill="rgb(48,48,48)"/><rect x="56.4" y="450.2" width="16.3" height="31.2" fill="rgb(59,59,59)"/><rect x="72.2" y="450.2" width="16.3" height="31.2" fill="rgb(69,69,69)"/><rect x="87.9" y="450.2" width="31.3" height="31.2" fill="rgb(48,48,48)"/><rect x="9.9" y="480.9" width="31.3" height="16.2" fill="rgb(64,64,64)"/><rect x="40.7" y="480.9" width="16.3" height="16.2" fill="rgb(59,59,59)"/><rect x="56.4" y="480.9" width="16.3" height="16.2" fill="rgb(64,64,64)"/><rect x="72.2" y="480.9" width="16.3" height="16.2" fill="rgb(69,69,69)"/><rect x="87.9" y="480.9" width="31.3" height="16.2" fill="rgb(54,54,54)"/><rect x="9.9" y="496.5" width="31.3" height="16.2" fill="rgb(64,64,64)"/><rect x="40.7" y="496.5" width="16.3" height="16.2" fill="rgb(64,64,64)"/><rect x="56.4" y="496.5" width="16.3" height="16.2" fill="rgb(64,64,64)"/><rect x="72.2" y="496.5" width="16.3" height="16.2" fill="rgb(59,59,59)"/><rect x="87.9" y="496.5" width="31.3" height="16.2" fill="rgb(48,48,48)"/><rect x="9.9" y="512.2" width="31.3" height="16.2" fill="rgb(59,59,59)"/><rect x="40.7" y="512.2" width="16.3" height="16.2" fill="rgb(64,64,64)"/><rect x="56.4" y="512.2" width="16.3" height="16.2" fill="rgb(61,61,61)"/><rect x="72.2" y="512.2" width="16.3" height="16.2" fill="rgb(54,54,54)"/><rect x="87.9" y="512.2" width="31.3" height="16.2" fill="rgb(48,48,48)"/><rect x="9.9" y="527.8" width="31.3" height="31.2" fill="rgb(59,59,59)"/><rect x="40.7" y="527.8" width="16.3" height="31.2" fill="rgb(59,59,59)"/><rect x="56.4" y="527.8" width="16.3" height="31.2" fill="rgb(54,54,54)"/><rect x="72.2" y="527.8" width="16.3" height="31.2" fill="rgb(48,48,48)"/><rect x="87.9" y="527.8" width="31.3" height="31.2" fill="rgb(46,46,46)"/><polygon points="75.1,465.2 107.9,465.2 90.9,495.2 58.9,495.2" fill="rgb(97,97,97)"/><polygon points="58.9,495.2 90.9,495.2 76.8,520.2 45.4,520.2" fill="rgb(71,71,71)"/><polygon points="42.9,460.2 66.1,460.2 61.8,473.2 38.9,473.2" fill="rgb(31,31,31)"/><polygon points="19.9,495.2 29.9,495.2 24.9,510.2 19.9,510.2" fill="rgb(87,87,87)"/></g><polygon points="110.0,463.2 114.9,463.2 114.9,555.2 58.1,555.2" fill="rgb(38,38,38)"/><polygon points="22.9,463.2 41.9,463.2 37.9,474.2 31.9,487.2 27.9,496.2 22.9,498.2" fill="rgb(219,219,219)"/><line x1="67.6" y1="464.2" x2="23.4" y2="546.2" stroke="rgb(107,107,107)" stroke-width="3.5" stroke-linecap="round"/><line x1="108.5" y1="464.2" x2="62.1" y2="546.2" stroke="rgb(107,107,107)" stroke-width="3.5" stroke-linecap="round"/></g><polygon points="22.9,463.2 41.9,463.2 37.9,474.2 31.9,487.2 27.9,496.2 22.9,498.2" fill="#c8ee2a" opacity="0.85" filter="url(#sb)"/><line x1="28.9" y1="464.2" x2="12.5" y2="494.2" stroke="#6a9c48" stroke-width="1" opacity="0.6" filter="url(#sb)"/><line x1="33.9" y1="464.2" x2="17.5" y2="494.2" stroke="#6a9c48" stroke-width="1" opacity="0.6" filter="url(#sb)"/><line x1="38.9" y1="464.2" x2="22.5" y2="494.2" stroke="#6a9c48" stroke-width="1" opacity="0.6" filter="url(#sb)"/><line x1="43.7" y1="464.2" x2="23.9" y2="502.2" stroke="#84f02c" stroke-width="2" opacity="0.95" filter="url(#sb)"/><line x1="68.2" y1="463.2" x2="22.8" y2="547.2" stroke="#84f02c" stroke-width="1.9" opacity="0.95" filter="url(#sb)"/><line x1="109.0" y1="463.2" x2="61.6" y2="547.2" stroke="#84f02c" stroke-width="1.9" opacity="0.95" filter="url(#sb)"/></g>
<g clip-path="url(#c21)"><g filter="url(#f21)"><g filter="url(#b21)"><rect x="88.7" y="450.2" width="31.2" height="31.2" fill="rgb(69,69,69)"/><rect x="119.4" y="450.2" width="16.2" height="31.2" fill="rgb(59,59,59)"/><rect x="135.0" y="450.2" width="16.2" height="31.2" fill="rgb(69,69,69)"/><rect x="150.7" y="450.2" width="16.2" height="31.2" fill="rgb(79,79,79)"/><rect x="166.3" y="450.2" width="31.2" height="31.2" fill="rgb(59,59,59)"/><rect x="88.7" y="480.9" width="31.2" height="16.2" fill="rgb(74,74,74)"/><rect x="119.4" y="480.9" width="16.2" height="16.2" fill="rgb(69,69,69)"/><rect x="135.0" y="480.9" width="16.2" height="16.2" fill="rgb(74,74,74)"/><rect x="150.7" y="480.9" width="16.2" height="16.2" fill="rgb(79,79,79)"/><rect x="166.3" y="480.9" width="31.2" height="16.2" fill="rgb(64,64,64)"/><rect x="88.7" y="496.5" width="31.2" height="16.2" fill="rgb(74,74,74)"/><rect x="119.4" y="496.5" width="16.2" height="16.2" fill="rgb(74,74,74)"/><rect x="135.0" y="496.5" width="16.2" height="16.2" fill="rgb(74,74,74)"/><rect x="150.7" y="496.5" width="16.2" height="16.2" fill="rgb(69,69,69)"/><rect x="166.3" y="496.5" width="31.2" height="16.2" fill="rgb(59,59,59)"/><rect x="88.7" y="512.2" width="31.2" height="16.2" fill="rgb(69,69,69)"/><rect x="119.4" y="512.2" width="16.2" height="16.2" fill="rgb(74,74,74)"/><rect x="135.0" y="512.2" width="16.2" height="16.2" fill="rgb(71,71,71)"/><rect x="150.7" y="512.2" width="16.2" height="16.2" fill="rgb(64,64,64)"/><rect x="166.3" y="512.2" width="31.2" height="16.2" fill="rgb(59,59,59)"/><rect x="88.7" y="527.8" width="31.2" height="31.2" fill="rgb(69,69,69)"/><rect x="119.4" y="527.8" width="16.2" height="31.2" fill="rgb(69,69,69)"/><rect x="135.0" y="527.8" width="16.2" height="31.2" fill="rgb(64,64,64)"/><rect x="150.7" y="527.8" width="16.2" height="31.2" fill="rgb(59,59,59)"/><rect x="166.3" y="527.8" width="31.2" height="31.2" fill="rgb(56,56,56)"/><polygon points="153.9,465.2 186.7,465.2 169.8,495.2 137.7,495.2" fill="rgb(115,115,115)"/><polygon points="137.7,495.2 169.8,495.2 155.6,520.2 124.2,520.2" fill="rgb(92,92,92)"/><polygon points="121.7,460.2 144.9,460.2 140.6,473.2 117.7,473.2" fill="rgb(43,43,43)"/><polygon points="98.7,495.2 108.7,495.2 103.7,510.2 98.7,510.2" fill="rgb(128,128,128)"/></g><polygon points="188.8,463.2 193.7,463.2 193.7,555.2 136.9,555.2" fill="rgb(54,54,54)"/><polygon points="101.7,463.2 120.7,463.2 116.7,474.2 110.7,487.2 106.7,496.2 101.7,498.2" fill="rgb(224,224,224)"/><line x1="146.4" y1="464.2" x2="102.2" y2="546.2" stroke="rgb(128,128,128)" stroke-width="5.0" stroke-linecap="round"/><line x1="187.3" y1="464.2" x2="140.9" y2="546.2" stroke="rgb(128,128,128)" stroke-width="5.0" stroke-linecap="round"/></g><polygon points="101.7,463.2 120.7,463.2 116.7,474.2 110.7,487.2 106.7,496.2 101.7,498.2" fill="#e0e820" opacity="0.9" filter="url(#sb)"/><line x1="122.5" y1="464.2" x2="102.7" y2="502.2" stroke="#78f028" stroke-width="2" opacity="0.9" filter="url(#sb)"/><line x1="147.0" y1="463.2" x2="101.6" y2="547.2" stroke="#78f028" stroke-width="2.1" opacity="0.9" filter="url(#sb)"/><line x1="187.8" y1="463.2" x2="140.4" y2="547.2" stroke="#78f028" stroke-width="2.1" opacity="0.9" filter="url(#sb)"/></g>
<g clip-path="url(#c22)"><g filter="url(#f22)"><g filter="url(#b22)"><rect x="167.0" y="450.2" width="31.1" height="31.2" fill="rgb(79,79,79)"/><rect x="197.6" y="450.2" width="16.1" height="31.2" fill="rgb(69,69,69)"/><rect x="213.2" y="450.2" width="16.1" height="31.2" fill="rgb(79,79,79)"/><rect x="228.8" y="450.2" width="16.1" height="31.2" fill="rgb(89,89,89)"/><rect x="244.4" y="450.2" width="31.1" height="31.2" fill="rgb(69,69,69)"/><rect x="167.0" y="480.9" width="31.1" height="16.2" fill="rgb(84,84,84)"/><rect x="197.6" y="480.9" width="16.1" height="16.2" fill="rgb(79,79,79)"/><rect x="213.2" y="480.9" width="16.1" height="16.2" fill="rgb(84,84,84)"/><rect x="228.8" y="480.9" width="16.1" height="16.2" fill="rgb(89,89,89)"/><rect x="244.4" y="480.9" width="31.1" height="16.2" fill="rgb(74,74,74)"/><rect x="167.0" y="496.5" width="31.1" height="16.2" fill="rgb(84,84,84)"/><rect x="197.6" y="496.5" width="16.1" height="16.2" fill="rgb(84,84,84)"/><rect x="213.2" y="496.5" width="16.1" height="16.2" fill="rgb(84,84,84)"/><rect x="228.8" y="496.5" width="16.1" height="16.2" fill="rgb(79,79,79)"/><rect x="244.4" y="496.5" width="31.1" height="16.2" fill="rgb(69,69,69)"/><rect x="167.0" y="512.2" width="31.1" height="16.2" fill="rgb(79,79,79)"/><rect x="197.6" y="512.2" width="16.1" height="16.2" fill="rgb(84,84,84)"/><rect x="213.2" y="512.2" width="16.1" height="16.2" fill="rgb(82,82,82)"/><rect x="228.8" y="512.2" width="16.1" height="16.2" fill="rgb(74,74,74)"/><rect x="244.4" y="512.2" width="31.1" height="16.2" fill="rgb(69,69,69)"/><rect x="167.0" y="527.8" width="31.1" height="31.2" fill="rgb(79,79,79)"/><rect x="197.6" y="527.8" width="16.1" height="31.2" fill="rgb(79,79,79)"/><rect x="213.2" y="527.8" width="16.1" height="31.2" fill="rgb(74,74,74)"/><rect x="228.8" y="527.8" width="16.1" height="31.2" fill="rgb(69,69,69)"/><rect x="244.4" y="527.8" width="31.1" height="31.2" fill="rgb(66,66,66)"/><polygon points="200.0,460.2 218.0,460.2 212.0,475.2 195.0,475.2" fill="rgb(56,56,56)"/><polygon points="237.0,525.2 262.0,520.2 262.0,547.2 232.0,547.2" fill="rgb(56,56,56)"/></g><polygon points="177.0,460.2 199.0,460.2 194.0,475.2 189.0,487.2 185.0,499.2 177.0,501.2" fill="rgb(247,247,247)"/><line x1="201.0" y1="463.2" x2="182.0" y2="505.2" stroke="rgb(148,148,148)" stroke-width="4.0" stroke-linecap="round"/><line x1="225.3" y1="463.2" x2="179.9" y2="547.2" stroke="rgb(145,145,145)" stroke-width="9.0" stroke-linecap="round"/><line x1="266.1" y1="463.2" x2="218.7" y2="547.2" stroke="rgb(145,145,145)" stroke-width="9.0" stroke-linecap="round"/><ellipse cx="186.0" cy="525.2" rx="3.0" ry="5.0" fill="rgb(158,158,158)"/></g><ellipse cx="209.0" cy="490.2" rx="2.0" ry="3.4" fill="#98ec40" opacity="0.9" filter="url(#sb)" transform="rotate(30 209.0 490.2)"/><ellipse cx="204.0" cy="500.2" rx="1.8" ry="3.0" fill="#98ec40" opacity="0.9" filter="url(#sb)" transform="rotate(30 204.0 500.2)"/><ellipse cx="190.0" cy="525.2" rx="2.0" ry="3.4" fill="#98ec40" opacity="0.9" filter="url(#sb)" transform="rotate(30 190.0 525.2)"/><ellipse cx="249.0" cy="493.2" rx="2.6" ry="3.4" fill="#98ec40" opacity="0.9" filter="url(#sb)" transform="rotate(30 249.0 493.2)"/><ellipse cx="243.0" cy="505.2" rx="1.8" ry="3.0" fill="#98ec40" opacity="0.9" filter="url(#sb)" transform="rotate(30 243.0 505.2)"/><ellipse cx="234.0" cy="520.2" rx="1.8" ry="3.0" fill="#98ec40" opacity="0.9" filter="url(#sb)" transform="rotate(30 234.0 520.2)"/><ellipse cx="257.0" cy="479.2" rx="1.8" ry="3.0" fill="#98ec40" opacity="0.9" filter="url(#sb)" transform="rotate(30 257.0 479.2)"/><ellipse cx="198.0" cy="512.2" rx="1.5" ry="2.5" fill="#98ec40" opacity="0.9" filter="url(#sb)" transform="rotate(30 198.0 512.2)"/></g>
<rect x="260.0" y="465.2" width="78.3" height="78.3" fill="#fff"/>
<g clip-path="url(#c23)"><g filter="url(#f23)"><g filter="url(#b23)"><rect x="245.0" y="450.2" width="31.2" height="31.2" fill="rgb(66,66,66)"/><rect x="275.7" y="450.2" width="16.2" height="31.2" fill="rgb(66,66,66)"/><rect x="291.3" y="450.2" width="16.2" height="31.2" fill="rgb(76,76,76)"/><rect x="307.0" y="450.2" width="16.2" height="31.2" fill="rgb(117,117,117)"/><rect x="322.6" y="450.2" width="31.2" height="31.2" fill="rgb(117,117,117)"/><rect x="245.0" y="480.9" width="31.2" height="16.2" fill="rgb(66,66,66)"/><rect x="275.7" y="480.9" width="16.2" height="16.2" fill="rgb(66,66,66)"/><rect x="291.3" y="480.9" width="16.2" height="16.2" fill="rgb(82,82,82)"/><rect x="307.0" y="480.9" width="16.2" height="16.2" fill="rgb(112,112,112)"/><rect x="322.6" y="480.9" width="31.2" height="16.2" fill="rgb(102,102,102)"/><rect x="245.0" y="496.5" width="31.2" height="16.2" fill="rgb(69,69,69)"/><rect x="275.7" y="496.5" width="16.2" height="16.2" fill="rgb(71,71,71)"/><rect x="291.3" y="496.5" width="16.2" height="16.2" fill="rgb(76,76,76)"/><rect x="307.0" y="496.5" width="16.2" height="16.2" fill="rgb(76,76,76)"/><rect x="322.6" y="496.5" width="31.2" height="16.2" fill="rgb(76,76,76)"/><rect x="245.0" y="512.2" width="31.2" height="16.2" fill="rgb(76,76,76)"/><rect x="275.7" y="512.2" width="16.2" height="16.2" fill="rgb(71,71,71)"/><rect x="291.3" y="512.2" width="16.2" height="16.2" fill="rgb(66,66,66)"/><rect x="307.0" y="512.2" width="16.2" height="16.2" fill="rgb(66,66,66)"/><rect x="322.6" y="512.2" width="31.2" height="16.2" fill="rgb(66,66,66)"/><rect x="245.0" y="527.8" width="31.2" height="31.2" fill="rgb(87,87,87)"/><rect x="275.7" y="527.8" width="16.2" height="31.2" fill="rgb(76,76,76)"/><rect x="291.3" y="527.8" width="16.2" height="31.2" fill="rgb(66,66,66)"/><rect x="307.0" y="527.8" width="16.2" height="31.2" fill="rgb(64,64,64)"/><rect x="322.6" y="527.8" width="31.2" height="31.2" fill="rgb(64,64,64)"/></g><ellipse cx="317.0" cy="483.2" rx="3.0" ry="4.0" fill="rgb(158,158,158)"/><ellipse cx="312.0" cy="491.2" rx="2.0" ry="2.5" fill="rgb(153,153,153)"/><ellipse cx="322.0" cy="478.2" rx="2.5" ry="3.0" fill="rgb(153,153,153)"/><ellipse cx="326.0" cy="489.2" rx="2.0" ry="2.0" fill="rgb(140,140,140)"/></g></g>
<g stroke="#101018" stroke-width="1.35"><line x1="24.2" y1="6.10" x2="339.0" y2="6.10"/><line x1="24.2" y1="84.25" x2="339.0" y2="84.25"/><line x1="24.2" y1="162.60" x2="339.0" y2="162.60"/><line x1="24.90" y1="5.4" x2="24.90" y2="163.3"/><line x1="103.70" y1="5.4" x2="103.70" y2="163.3"/><line x1="182.00" y1="5.4" x2="182.00" y2="163.3"/><line x1="260.00" y1="5.4" x2="260.00" y2="163.3"/><line x1="338.30" y1="5.4" x2="338.30" y2="163.3"/></g>
<g stroke="#101018" stroke-width="1.35"><line x1="24.2" y1="196.50" x2="339.0" y2="196.50"/><line x1="24.2" y1="275.50" x2="339.0" y2="275.50"/><line x1="24.2" y1="353.90" x2="339.0" y2="353.90"/><line x1="24.90" y1="195.8" x2="24.90" y2="354.6"/><line x1="103.70" y1="195.8" x2="103.70" y2="354.6"/><line x1="182.00" y1="195.8" x2="182.00" y2="354.6"/><line x1="260.00" y1="195.8" x2="260.00" y2="354.6"/><line x1="338.30" y1="195.8" x2="338.30" y2="354.6"/></g>
<g stroke="#101018" stroke-width="1.35"><line x1="24.2" y1="386.50" x2="339.0" y2="386.50"/><line x1="24.2" y1="465.20" x2="339.0" y2="465.20"/><line x1="24.2" y1="543.50" x2="339.0" y2="543.50"/><line x1="24.90" y1="385.8" x2="24.90" y2="544.2"/><line x1="103.70" y1="385.8" x2="103.70" y2="544.2"/><line x1="182.00" y1="385.8" x2="182.00" y2="544.2"/><line x1="260.00" y1="385.8" x2="260.00" y2="544.2"/><line x1="338.30" y1="385.8" x2="338.30" y2="544.2"/></g>
<rect x="87.5" y="67.8" width="16.2" height="16.5" fill="#fff"/>
<rect x="165.8" y="67.8" width="16.2" height="16.5" fill="#fff"/>
<rect x="243.8" y="67.8" width="16.2" height="16.5" fill="#fff"/>
<rect x="322.1" y="67.8" width="16.2" height="16.5" fill="#fff"/>
<rect x="87.5" y="146.1" width="16.2" height="16.5" fill="#fff"/>
<rect x="165.8" y="146.1" width="16.2" height="16.5" fill="#fff"/>
<rect x="243.8" y="146.1" width="16.2" height="16.5" fill="#fff"/>
<rect x="322.1" y="146.1" width="16.2" height="16.5" fill="#fff"/>
<rect x="83.2" y="259.0" width="20.5" height="16.5" fill="#fff"/>
<rect x="161.5" y="259.0" width="20.5" height="16.5" fill="#fff"/>
<rect x="239.5" y="259.0" width="20.5" height="16.5" fill="#fff"/>
<rect x="317.8" y="259.0" width="20.5" height="16.5" fill="#fff"/>
<rect x="83.2" y="337.4" width="20.5" height="16.5" fill="#fff"/>
<rect x="161.5" y="337.4" width="20.5" height="16.5" fill="#fff"/>
<rect x="239.5" y="337.4" width="20.5" height="16.5" fill="#fff"/>
<rect x="317.8" y="337.4" width="20.5" height="16.5" fill="#fff"/>
<rect x="87.5" y="448.7" width="16.2" height="16.5" fill="#fff"/>
<rect x="165.8" y="448.7" width="16.2" height="16.5" fill="#fff"/>
<rect x="243.8" y="448.7" width="16.2" height="16.5" fill="#fff"/>
<rect x="322.1" y="448.7" width="16.2" height="16.5" fill="#fff"/>
<rect x="87.5" y="527.0" width="16.2" height="16.5" fill="#fff"/>
<rect x="165.8" y="527.0" width="16.2" height="16.5" fill="#fff"/>
<rect x="243.8" y="527.0" width="16.2" height="16.5" fill="#fff"/>
<rect x="322.1" y="527.0" width="16.2" height="16.5" fill="#fff"/>
<rect x="346.7" y="9.6" width="15.5" height="153.5" fill="url(#cb)" stroke="#333" stroke-width="0.9"/>
<line x1="360.2" y1="13.7" x2="362.2" y2="13.7" stroke="#333" stroke-width="0.8"/>
<line x1="360.2" y1="43.6" x2="362.2" y2="43.6" stroke="#333" stroke-width="0.8"/>
<line x1="360.2" y1="73.5" x2="362.2" y2="73.5" stroke="#333" stroke-width="0.8"/>
<line x1="360.2" y1="103.4" x2="362.2" y2="103.4" stroke="#333" stroke-width="0.8"/>
<line x1="360.2" y1="133.3" x2="362.2" y2="133.3" stroke="#333" stroke-width="0.8"/>
<rect x="346.7" y="198.3" width="15.5" height="154.1" fill="url(#cb)" stroke="#333" stroke-width="0.9"/>
<line x1="360.2" y1="207.5" x2="362.2" y2="207.5" stroke="#333" stroke-width="0.8"/>
<line x1="360.2" y1="231.7" x2="362.2" y2="231.7" stroke="#333" stroke-width="0.8"/>
<line x1="360.2" y1="255.8" x2="362.2" y2="255.8" stroke="#333" stroke-width="0.8"/>
<line x1="360.2" y1="279.9" x2="362.2" y2="279.9" stroke="#333" stroke-width="0.8"/>
<line x1="360.2" y1="304.1" x2="362.2" y2="304.1" stroke="#333" stroke-width="0.8"/>
<line x1="360.2" y1="328.2" x2="362.2" y2="328.2" stroke="#333" stroke-width="0.8"/>
<rect x="346.7" y="388.3" width="15.5" height="150.6" fill="url(#cb)" stroke="#333" stroke-width="0.9"/>
<line x1="360.2" y1="391.6" x2="362.2" y2="391.6" stroke="#333" stroke-width="0.8"/>
<line x1="360.2" y1="416.2" x2="362.2" y2="416.2" stroke="#333" stroke-width="0.8"/>
<line x1="360.2" y1="440.8" x2="362.2" y2="440.8" stroke="#333" stroke-width="0.8"/>
<line x1="360.2" y1="465.4" x2="362.2" y2="465.4" stroke="#333" stroke-width="0.8"/>
<line x1="360.2" y1="490.0" x2="362.2" y2="490.0" stroke="#333" stroke-width="0.8"/>
<line x1="360.2" y1="514.6" x2="362.2" y2="514.6" stroke="#333" stroke-width="0.8"/>
</g>
<text x="101.8" y="79.0" text-anchor="end" class="lb">(a)</text>
<text x="180.1" y="79.0" text-anchor="end" class="lb">(b)</text>
<text x="258.1" y="79.0" text-anchor="end" class="lb">(c)</text>
<text x="336.4" y="79.0" text-anchor="end" class="lb">(d)</text>
<text x="101.8" y="157.4" text-anchor="end" class="lb">(e)</text>
<text x="180.1" y="157.4" text-anchor="end" class="lb">(f)</text>
<text x="258.1" y="157.4" text-anchor="end" class="lb">(g)</text>
<text x="336.4" y="157.4" text-anchor="end" class="lb">(h)</text>
<text x="102.7" y="270.3" text-anchor="end" class="lb">(a′)</text>
<text x="181.0" y="270.3" text-anchor="end" class="lb">(b′)</text>
<text x="259.0" y="270.3" text-anchor="end" class="lb">(c′)</text>
<text x="337.3" y="270.3" text-anchor="end" class="lb">(d′)</text>
<text x="102.7" y="348.7" text-anchor="end" class="lb">(e′)</text>
<text x="181.0" y="348.7" text-anchor="end" class="lb">(f′)</text>
<text x="259.0" y="348.7" text-anchor="end" class="lb">(g′)</text>
<text x="337.3" y="348.7" text-anchor="end" class="lb">(h′)</text>
<text x="101.8" y="460.0" text-anchor="end" class="lb">(a)</text>
<text x="180.1" y="460.0" text-anchor="end" class="lb">(b)</text>
<text x="258.1" y="460.0" text-anchor="end" class="lb">(c)</text>
<text x="336.4" y="460.0" text-anchor="end" class="lb">(d)</text>
<text x="101.8" y="538.3" text-anchor="end" class="lb">(e)</text>
<text x="180.1" y="538.3" text-anchor="end" class="lb">(f)</text>
<text x="258.1" y="538.3" text-anchor="end" class="lb">(g)</text>
<text x="336.4" y="538.3" text-anchor="end" class="lb">(h)</text>
<text x="369.5" y="18.0" class="tk">0.25</text>
<text x="369.5" y="47.9" class="tk">0.20</text>
<text x="369.5" y="77.8" class="tk">0.15</text>
<text x="369.5" y="107.7" class="tk">0.10</text>
<text x="369.5" y="137.6" class="tk">0.05</text>
<text x="369.5" y="167.5" class="tk">0</text>
<text transform="translate(400.3,84.8) rotate(90)" x="-37" y="0" textLength="74" lengthAdjust="spacingAndGlyphs" class="ax2">BC (linear)</text>
<text x="369.5" y="211.8" class="tk">0.06</text>
<text x="369.5" y="236.0" class="tk">0.05</text>
<text x="369.5" y="260.1" class="tk">0.04</text>
<text x="369.5" y="284.2" class="tk">0.03</text>
<text x="369.5" y="308.4" class="tk">0.02</text>
<text x="369.5" y="332.6" class="tk">0.01</text>
<text x="369.5" y="356.7" class="tk">0</text>
<text transform="translate(400.3,274.9) rotate(90)" x="-37" y="0" textLength="74" lengthAdjust="spacingAndGlyphs" class="ax2">BC (linear)</text>
<text x="369.5" y="395.9" class="tk">0.12</text>
<text x="369.5" y="420.5" class="tk">0.10</text>
<text x="369.5" y="445.1" class="tk">0.08</text>
<text x="369.5" y="469.7" class="tk">0.06</text>
<text x="369.5" y="494.3" class="tk">0.04</text>
<text x="369.5" y="518.9" class="tk">0.02</text>
<text x="369.5" y="543.5" class="tk">0</text>
<text transform="translate(400.3,465.7) rotate(90)" x="-37" y="0" textLength="74" lengthAdjust="spacingAndGlyphs" class="ax2">BC (linear)</text>
<text transform="translate(13.8,86.5) rotate(-90)" x="-38.5" y="0" textLength="77" lengthAdjust="spacingAndGlyphs" class="ax">Soybean-VV</text>
<text transform="translate(13.8,276.2) rotate(-90)" x="-38.5" y="0" textLength="77" lengthAdjust="spacingAndGlyphs" class="ax">Soybean-VH</text>
<text transform="translate(13.8,464.7) rotate(-90)" x="-31.0" y="0" textLength="62" lengthAdjust="spacingAndGlyphs" class="ax">Paddy-VV</text>
</svg></body></html>
